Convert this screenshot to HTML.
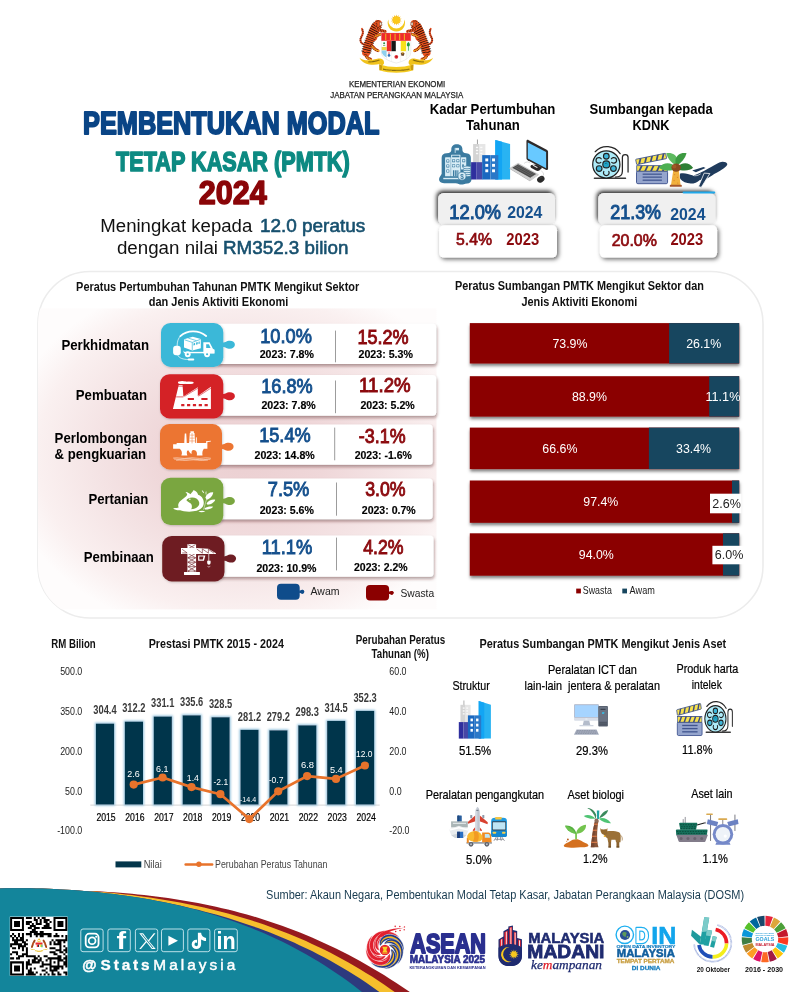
<!DOCTYPE html>
<html lang="ms">
<head>
<meta charset="utf-8">
<title>Pembentukan Modal Tetap Kasar (PMTK) 2024</title>
<style>
html,body{margin:0;padding:0;background:#fff;}
body{width:794px;height:992px;overflow:hidden;font-family:"Liberation Sans",sans-serif;}
svg{display:block;font-family:"Liberation Sans",sans-serif;}
text{white-space:pre;}
</style>
</head>
<body>
<svg width="794" height="992" viewBox="0 0 794 992">
<defs>
<filter id="sh" x="-10%" y="-20%" width="125%" height="150%"><feDropShadow dx="1.6" dy="1.8" stdDeviation="2.0" flood-color="#000" flood-opacity="0.6"/></filter>
<filter id="shb" x="-5%" y="-20%" width="110%" height="160%"><feDropShadow dx="0.4" dy="2.4" stdDeviation="1.5" flood-color="#000" flood-opacity="0.5"/></filter>
<filter id="shin" x="-10%" y="-40%" width="120%" height="180%"><feDropShadow dx="-1.3" dy="-2.2" stdDeviation="2.0" flood-color="#000" flood-opacity="0.85"/></filter>
<filter id="glow" x="-5%" y="-10%" width="110%" height="120%"><feMorphology in="SourceAlpha" operator="dilate" radius="1.1" result="d"/><feGaussianBlur in="d" stdDeviation="0.9" result="b"/><feFlood flood-color="#8fc0dc" flood-opacity="0.95"/><feComposite in2="b" operator="in" result="g"/><feMerge><feMergeNode in="g"/><feMergeNode in="SourceGraphic"/></feMerge></filter>
<radialGradient id="pink" gradientUnits="userSpaceOnUse" cx="0" cy="0" r="1" gradientTransform="translate(242 455) scale(240 184)">
<stop offset="0" stop-color="#ebcfd1"/><stop offset="0.35" stop-color="#efd7d9"/><stop offset="0.6" stop-color="#f4e3e4"/><stop offset="0.85" stop-color="#faf0f0"/><stop offset="1" stop-color="#fefcfc"/>
</radialGradient>
<filter id="shw" x="-5%" y="-25%" width="110%" height="160%"><feDropShadow dx="0.8" dy="2.2" stdDeviation="1.7" flood-color="#4a1515" flood-opacity="0.42"/></filter>
<filter id="sht" x="-10%" y="-10%" width="125%" height="125%"><feDropShadow dx="0.6" dy="0.8" stdDeviation="0.9" flood-color="#000" flood-opacity="0.22"/></filter>
<linearGradient id="pinkv" x1="0" y1="0" x2="0" y2="1">
<stop offset="0" stop-color="#f3dfe0" stop-opacity="0"/><stop offset="1" stop-color="#f3dfe0" stop-opacity="0.7"/>
</linearGradient>
<clipPath id="panelclip"><rect x="38" y="271.5" width="725" height="346.5" rx="52"/></clipPath>
</defs>
<rect width="794" height="992" fill="#ffffff"/>
<g id="header">
<text font-size="8.6" fill="#222" stroke="#222" stroke-width="0.25" x="348.93" y="87.30" textLength="96.31" lengthAdjust="spacingAndGlyphs">KEMENTERIAN EKONOMI</text>
<text font-size="8.6" fill="#222" stroke="#222" stroke-width="0.25" x="330.32" y="98.30" textLength="133.00" lengthAdjust="spacingAndGlyphs">JABATAN PERANGKAAN MALAYSIA</text>
<text font-size="32.0" fill="#0a4586" font-weight="700" stroke="#0a4586" stroke-width="2.0" x="83.12" y="134.30" textLength="296.31" lengthAdjust="spacingAndGlyphs" stroke-linejoin="round">PEMBENTUKAN MODAL</text>
<text font-size="28.0" fill="#0d8a82" font-weight="700" stroke="#0d8a82" stroke-width="1.6" x="116.10" y="171.10" textLength="233.62" lengthAdjust="spacingAndGlyphs" stroke-linejoin="round">TETAP KASAR (PMTK)</text>
<text font-size="33.3" fill="#8a0508" font-weight="700" stroke="#8a0508" stroke-width="1.5" x="198.63" y="203.60" textLength="68.18" lengthAdjust="spacingAndGlyphs" stroke-linejoin="round">2024</text>
<text font-size="18.9" fill="#111" x="100.32" y="231.80" textLength="152.00" lengthAdjust="spacingAndGlyphs">Meningkat kepada</text>
<text font-size="18.9" fill="#17506e" stroke="#17506e" stroke-width="0.6" x="259.90" y="231.80" textLength="105.35" lengthAdjust="spacingAndGlyphs">12.0 peratus</text>
<text font-size="18.9" fill="#111" x="116.90" y="253.80" textLength="101.09" lengthAdjust="spacingAndGlyphs">dengan nilai</text>
<text font-size="18.9" fill="#17506e" stroke="#17506e" stroke-width="0.6" x="223.00" y="253.80" textLength="125.40" lengthAdjust="spacingAndGlyphs">RM352.3 bilion</text>
</g>
<g id="coat" transform="translate(352 8) scale(0.11083)">
<path d="M328.5 103.9 A78 78 0 1 0 471.5 103.9 A72 72 0 1 1 328.5 103.9Z" fill="#f3c71d"/>
<polygon points="400.0,58.0 406.7,78.8 421.7,63.0 418.7,84.5 439.1,76.8 427.0,95.0 448.7,96.9 430.0,108.0 448.7,119.1 427.0,121.0 439.1,139.2 418.7,131.5 421.7,153.0 406.7,137.2 400.0,158.0 393.3,137.2 378.3,153.0 381.3,131.5 360.9,139.2 373.0,121.0 351.3,119.1 370.0,108.0 351.3,96.9 373.0,95.0 360.9,76.8 381.3,84.5 378.3,63.0 393.3,78.8" fill="#f7b918"/>
<circle cx="400" cy="108" r="32" fill="#fbc81b"/>

<g fill="none" stroke-linecap="round" stroke-linejoin="round">
 <path d="M112 330 C78 322 66 290 84 262 C100 236 104 214 90 188" stroke="#e4481c" stroke-width="17"/>
 <path d="M112 330 C78 322 66 290 84 262 C100 236 104 214 90 188" stroke="#1a0d08" stroke-width="17" stroke-dasharray="4 13" stroke-linecap="butt"/>
 <path d="M232 150 C190 210 150 300 128 400" stroke="#e8521f" stroke-width="74"/><path d="M215 175 C200 200 190 230 185 260" stroke="#e8521f" stroke-width="90"/>
 <path d="M232 150 C190 210 150 300 128 400" stroke="#1a0d08" stroke-width="90" stroke-dasharray="6 13" stroke-linecap="butt"/>
 <path d="M225 190 C250 200 275 205 300 212" stroke="#e8521f" stroke-width="26"/>
 <path d="M205 255 C230 250 250 240 268 232" stroke="#e8521f" stroke-width="24"/>
 <path d="M225 190 C250 200 275 205 300 212 M205 255 C230 250 250 240 268 232" stroke="#1a0d08" stroke-width="24" stroke-dasharray="4 11" stroke-linecap="butt"/>
 <path d="M170 330 C190 350 200 375 235 385" stroke="#e8521f" stroke-width="26"/>
 <path d="M120 400 C120 430 135 455 168 462" stroke="#e8521f" stroke-width="28"/>
 <path d="M170 330 C190 350 200 375 235 385 M120 400 C120 430 135 455 168 462" stroke="#1a0d08" stroke-width="26" stroke-dasharray="4 12" stroke-linecap="butt"/>
 <path d="M205 262 C215 250 240 244 262 236 M180 345 C200 372 215 382 245 388 M130 440 C140 458 152 462 172 465" stroke="#f6c21c" stroke-width="9"/>
</g>
<ellipse cx="236" cy="138" rx="33" ry="30" fill="#e8521f"/>
<path d="M212 120 l14 6 M224 112 l12 10 M240 110 l6 12 M214 140 l14 2 M216 156 l14 -4" stroke="#1a0d08" stroke-width="5" fill="none"/>
<path d="M250 128 l22 4 l-8 12 l10 10 l-24 4z" fill="#fff4e0" stroke="#1a0d08" stroke-width="3"/>

<g transform="translate(800 0) scale(-1 1)">
<g fill="none" stroke-linecap="round" stroke-linejoin="round">
 <path d="M112 330 C78 322 66 290 84 262 C100 236 104 214 90 188" stroke="#e4481c" stroke-width="17"/>
 <path d="M112 330 C78 322 66 290 84 262 C100 236 104 214 90 188" stroke="#1a0d08" stroke-width="17" stroke-dasharray="4 13" stroke-linecap="butt"/>
 <path d="M232 150 C190 210 150 300 128 400" stroke="#e8521f" stroke-width="74"/><path d="M215 175 C200 200 190 230 185 260" stroke="#e8521f" stroke-width="90"/>
 <path d="M232 150 C190 210 150 300 128 400" stroke="#1a0d08" stroke-width="90" stroke-dasharray="6 13" stroke-linecap="butt"/>
 <path d="M225 190 C250 200 275 205 300 212" stroke="#e8521f" stroke-width="26"/>
 <path d="M205 255 C230 250 250 240 268 232" stroke="#e8521f" stroke-width="24"/>
 <path d="M225 190 C250 200 275 205 300 212 M205 255 C230 250 250 240 268 232" stroke="#1a0d08" stroke-width="24" stroke-dasharray="4 11" stroke-linecap="butt"/>
 <path d="M170 330 C190 350 200 375 235 385" stroke="#e8521f" stroke-width="26"/>
 <path d="M120 400 C120 430 135 455 168 462" stroke="#e8521f" stroke-width="28"/>
 <path d="M170 330 C190 350 200 375 235 385 M120 400 C120 430 135 455 168 462" stroke="#1a0d08" stroke-width="26" stroke-dasharray="4 12" stroke-linecap="butt"/>
 <path d="M205 262 C215 250 240 244 262 236 M180 345 C200 372 215 382 245 388 M130 440 C140 458 152 462 172 465" stroke="#f6c21c" stroke-width="9"/>
</g>
<ellipse cx="236" cy="138" rx="33" ry="30" fill="#e8521f"/>
<path d="M212 120 l14 6 M224 112 l12 10 M240 110 l6 12 M214 140 l14 2 M216 156 l14 -4" stroke="#1a0d08" stroke-width="5" fill="none"/>
<path d="M250 128 l22 4 l-8 12 l10 10 l-24 4z" fill="#fff4e0" stroke="#1a0d08" stroke-width="3"/>
</g>
<path d="M68 448 C105 478 165 476 228 458 C262 450 296 468 288 502 L272 520 L250 505 C190 522 95 512 68 448Z" fill="#f0c21b"/>
<path d="M732 448 C695 478 635 476 572 458 C538 450 504 468 512 502 L528 520 L550 505 C610 522 705 512 732 448Z" fill="#f0c21b"/>
<path d="M246 508 C300 528 350 532 400 532 C450 532 500 528 554 508 L552 562 C500 580 450 584 400 584 C350 584 300 580 248 562Z" fill="#f3c91f"/>
<path d="M246 508 L272 520 L268 560 L248 562Z M554 508 L528 520 L532 560 L552 562Z" fill="#c99a12"/>
<path d="M282 552 C320 560 360 563 400 563 C440 563 480 560 518 552 M150 486 C185 486 215 480 250 470 M550 470 C585 480 615 486 650 486" stroke="#3a2a05" stroke-width="11" stroke-dasharray="6 4" fill="none" opacity="0.85"/>
<path d="M265 226 H530 V400 C530 450 470 480 400 497 C330 480 265 450 265 400Z" fill="#ffffff" stroke="#c9c9c9" stroke-width="3"/>
<rect x="265" y="226" width="265" height="70" fill="#ee2a2c"/>
<g fill="#f0b81c"><rect x="300" y="232" width="9" height="58"/><rect x="342" y="232" width="9" height="58"/><rect x="384" y="232" width="9" height="58"/><rect x="426" y="232" width="9" height="58"/><rect x="468" y="232" width="9" height="58"/></g>
<rect x="312" y="298" width="44" height="92" fill="#ee2a2c"/>
<rect x="356" y="298" width="40" height="92" fill="#151515"/>
<rect x="396" y="298" width="44" height="92" fill="#ffffff"/>
<rect x="440" y="298" width="50" height="92" fill="#f8e11c"/>
<path d="M268 298 h44 v52 h-44z" fill="#fdfdfd"/><path d="M268 352 h44 v30 h-44z" fill="#f2d54a"/>
<path d="M268 384 h44 l0 62 C290 436 272 420 268 400Z" fill="#8fd0ee"/>
<path d="M490 298 h38 v102 C524 420 508 436 490 446Z" fill="#f4fbf4"/>
<path d="M509 306 c14 10 18 28 8 40 h-6 v40 h-6 v-40 h-6 c-8 -14 -4 -30 10 -40z" fill="#1f9a3c"/>
<circle cx="290" cy="318" r="9" fill="#2e8f4a"/><rect x="280" y="334" width="20" height="8" fill="#7cb46a"/>
<circle cx="334" cy="428" r="12" fill="#2f6fb8"/><path d="M324 410 l10 -14 l10 14z" fill="#d83a3a"/>
<circle cx="400" cy="440" r="17" fill="#e02b34"/><circle cx="400" cy="440" r="6" fill="#a8151d"/>
<path d="M440 408 c10 -8 24 -8 34 0 l-6 22 h-22z" fill="#6b4a2a"/><path d="M444 402 h26 l-13 12z" fill="#e0a020"/>
<path d="M312 392 V462 M356 392 V482 M440 392 V482 M490 392 V462" stroke="#d0d0d0" stroke-width="2"/>
</g>
<g id="kpi">
<text font-size="14.7" fill="#000" font-weight="700" x="429.70" y="114.10" textLength="125.67" lengthAdjust="spacingAndGlyphs">Kadar Pertumbuhan</text>
<text font-size="14.7" fill="#000" font-weight="700" x="466.00" y="129.70" textLength="53.77" lengthAdjust="spacingAndGlyphs">Tahunan</text>
<text font-size="14.7" fill="#000" font-weight="700" x="589.50" y="114.10" textLength="123.26" lengthAdjust="spacingAndGlyphs">Sumbangan kepada</text>
<text font-size="14.7" fill="#000" font-weight="700" x="632.50" y="129.70" textLength="36.96" lengthAdjust="spacingAndGlyphs">KDNK</text>
<rect x="438.10" y="193.10" width="116.90" height="31.50" rx="5.5" fill="#f0f0f0" filter="url(#shin)"/>
<rect x="439.10" y="225.30" width="117.90" height="32.30" rx="5" fill="#ffffff" filter="url(#sh)"/>
<text font-size="19.58" fill="#15508d" stroke="#15508d" stroke-width="1.0" x="449.37" y="219.10" textLength="51.71" lengthAdjust="spacingAndGlyphs">12.0%</text>
<text font-size="16.62" fill="#15508d" font-weight="700" x="507.20" y="218.03" textLength="35.17" lengthAdjust="spacingAndGlyphs">2024</text>
<text font-size="16.06" fill="#8b0a0e" stroke="#8b0a0e" stroke-width="0.7" x="455.95" y="244.89" textLength="36.06" lengthAdjust="spacingAndGlyphs">5.4%</text>
<text font-size="16.34" fill="#8b0a0e" font-weight="700" x="506.30" y="245.14" textLength="32.97" lengthAdjust="spacingAndGlyphs">2023</text>
<rect x="598.20" y="193.10" width="117.30" height="31.50" rx="5.5" fill="#f0f0f0" filter="url(#shin)"/>
<rect x="599.80" y="225.30" width="117.30" height="32.30" rx="5" fill="#ffffff" filter="url(#sh)"/>
<text font-size="19.72" fill="#15508d" stroke="#15508d" stroke-width="1.0" x="610.20" y="219.20" textLength="50.87" lengthAdjust="spacingAndGlyphs">21.3%</text>
<text font-size="17.04" fill="#15508d" font-weight="700" x="670.20" y="219.63" textLength="35.31" lengthAdjust="spacingAndGlyphs">2024</text>
<text font-size="15.92" fill="#8b0a0e" stroke="#8b0a0e" stroke-width="0.7" x="611.65" y="245.59" textLength="45.24" lengthAdjust="spacingAndGlyphs">20.0%</text>
<text font-size="16.2" fill="#8b0a0e" font-weight="700" x="670.40" y="245.14" textLength="32.80" lengthAdjust="spacingAndGlyphs">2023</text>
</g>
<g id="kpi-icons">
<g transform="translate(435 135) scale(0.10076)">
<path d="M218 92 C255 92 275 115 272 150 C272 170 285 180 310 182 C345 185 358 205 356 240 L356 290 C356 300 362 306 362 320 L362 440 C362 468 345 480 320 482 C290 486 280 492 262 492 C240 492 230 480 205 478 L90 478 C55 478 40 462 40 440 C40 415 62 405 66 385 L66 225 C66 195 85 182 115 180 C150 178 162 168 162 148 C160 112 182 92 218 92Z" fill="#3b7ba0"/>
<g fill="#d9edf6">
<rect x="196" y="128" width="8" height="50"/><rect x="204" y="128" width="34" height="24"/>
<rect x="160" y="195" width="92" height="215" rx="4"/>
<rect x="100" y="222" width="56" height="188" rx="4"/>
<rect x="258" y="222" width="52" height="120" rx="4"/>
<rect x="82" y="425" width="170" height="14"/>
</g>
<g fill="#3b7ba0">
<rect x="170" y="205" width="72" height="16"/>
<rect x="112" y="242" width="30" height="30" rx="5"/><rect x="112" y="292" width="30" height="30" rx="5"/><rect x="112" y="342" width="30" height="30" rx="5"/>
<rect x="170" y="240" width="30" height="30" rx="5"/><rect x="212" y="240" width="30" height="30" rx="5"/><rect x="170" y="290" width="30" height="30" rx="5"/><rect x="212" y="290" width="30" height="30" rx="5"/>
<rect x="270" y="240" width="30" height="30" rx="5"/><rect x="270" y="290" width="16" height="30" rx="5"/>
<rect x="178" y="350" width="14" height="60"/><rect x="200" y="350" width="14" height="60"/><rect x="222" y="350" width="10" height="60"/>
</g>
<g fill="#d9edf6"><rect x="118" y="248" width="18" height="18" rx="3"/><rect x="118" y="298" width="18" height="18" rx="3"/><rect x="118" y="348" width="18" height="18" rx="3"/><rect x="176" y="246" width="18" height="18" rx="3"/><rect x="218" y="246" width="18" height="18" rx="3"/><rect x="176" y="296" width="18" height="18" rx="3"/><rect x="218" y="296" width="18" height="18" rx="3"/><rect x="276" y="246" width="18" height="18" rx="3"/></g>
<g stroke="#3b7ba0" stroke-width="7" fill="#d9edf6"><ellipse cx="318" cy="400" rx="38" ry="14"/><ellipse cx="318" cy="380" rx="38" ry="14"/><ellipse cx="318" cy="360" rx="38" ry="14"/><ellipse cx="318" cy="340" rx="38" ry="14"/><ellipse cx="318" cy="322" rx="38" ry="14"/>
<circle cx="268" cy="408" r="40"/></g>
<text x="268" y="432" font-size="64" font-weight="700" text-anchor="middle" fill="#3b7ba0">$</text>
</g>
<g transform="translate(471.1 139.5) scale(0.10076 0.10076)">
<rect x="58" y="0" width="8" height="48" fill="#8a8a8a"/>
<rect x="20" y="45" width="62" height="185" fill="#d4d4d4"/><rect x="82" y="45" width="60" height="185" fill="#e6e6e6"/>
<g fill="#fafafa"><rect x="48" y="72" width="22" height="14"/><rect x="90" y="72" width="22" height="14"/><rect x="48" y="102" width="22" height="14"/><rect x="90" y="102" width="22" height="14"/><rect x="48" y="132" width="22" height="14"/><rect x="90" y="132" width="22" height="14"/></g>
<rect x="0" y="225" width="55" height="172" fill="#2f2f9e"/><rect x="55" y="225" width="57" height="172" fill="#4747a6"/>
<path d="M240 5 L387 45 V397 H240Z" fill="#29b3f2"/><path d="M240 5 L307 23 V397 H240Z" fill="#12a5f4"/>
<rect x="110" y="155" width="82" height="242" fill="#1a68c0"/><rect x="192" y="155" width="78" height="242" fill="#2a78c8"/>
<g fill="#ffffff"><rect x="141" y="188" width="29" height="29"/><rect x="208" y="188" width="29" height="29"/><rect x="141" y="242" width="29" height="29"/><rect x="208" y="242" width="29" height="29"/><rect x="141" y="296" width="29" height="29"/><rect x="208" y="296" width="29" height="29"/></g>
</g>
<g transform="translate(500 135) scale(0.07557)">
<path d="M480 390 L560 432 L520 470 C505 478 490 476 470 466 L410 432 C398 420 402 406 416 398Z" fill="#2b2727"/>
<path d="M440 395 l60 32 l-10 10 l-60 -32z" fill="#e8e8e8"/>
<path d="M320 375 C345 350 380 352 400 372 M545 470 C560 490 585 505 575 535" stroke="#c9c9c9" stroke-width="9" fill="none"/>
<path d="M350 82 C350 66 364 60 380 68 L618 196 C630 203 636 212 636 226 L636 444 C636 462 622 468 606 460 L366 334 C354 327 350 318 350 304Z" fill="#2e2a2a"/>
<path d="M368 100 L610 224 L610 440 L368 312Z" fill="#68c9ff"/>
<path d="M125 436 L240 368 L512 518 L396 602Z" fill="#cfcfcf"/>
<path d="M125 436 L396 602 L396 612 L125 446Z" fill="#a9a9a9"/><path d="M396 602 L512 518 L512 528 L396 612Z" fill="#bcbcbc"/>
<path d="M162 432 L240 386 L478 516 L400 566Z" fill="#4a4a4a"/>
<path d="M185 420 L425 552 M208 406 L448 538 M230 393 L468 524" stroke="#8a8a8a" stroke-width="5"/>
<ellipse cx="540" cy="586" rx="52" ry="40" transform="rotate(-30 540 586)" fill="#2a2a2a"/>
<path d="M520 575 l40 -22" stroke="#666" stroke-width="5"/>
</g>
</g>
<g id="kpi-icons2">
<g transform="translate(606.3 164.4) scale(0.11335 0.11335)" stroke-linecap="round">
<path d="M-98 -112 A142 142 0 0 1 122 -95" fill="none" stroke="#262626" stroke-width="11"/>
<path d="M80 112 C120 112 142 95 142 60 L142 -62 A25 25 0 0 1 192 -62 L192 68" fill="none" stroke="#262626" stroke-width="11"/>
<path d="M-105 122 H170" stroke="#3a3a3a" stroke-width="12"/>
<circle cx="0" cy="0" r="120" fill="#aeebf8" stroke="#202020" stroke-width="11"/>
<g fill="#3eb6da" stroke="#202020" stroke-width="10"><circle cx="0" cy="-72" r="25"/><circle cx="-63" cy="37" r="25"/><circle cx="63" cy="37" r="25"/><circle cx="0" cy="0" r="31" fill="#22a4c6"/></g>
<g fill="none" stroke="#202020" stroke-width="11"><path d="M-45 -50 A25 25 0 1 0 -48 -18"/><path d="M45 -50 A25 25 0 1 1 48 -18"/><path d="M-22 62 A25 25 0 1 0 22 62"/></g>
<path d="M-10 -8 a12 12 0 0 1 18 2" fill="none" stroke="#0b5f78" stroke-width="6"/>
</g>
<g transform="translate(635.6 152.3) scale(0.11335 0.11335)">
<rect x="8" y="165" width="274" height="112" rx="12" fill="#95a5cd" stroke="#3a4f8c" stroke-width="8"/>
<g stroke="#40558f" stroke-width="11"><path d="M62 193 H232"/><path d="M62 219 H232"/><path d="M62 246 H232"/></g>
<g transform="translate(10 118)"><rect x="0" y="0" width="270" height="48" fill="#f8e24c" stroke="#3a4f8c" stroke-width="7"/><path d="M36 0 l17 0 l-22 48 l-17 0z" fill="#3a4a82"/><path d="M88 0 l17 0 l-22 48 l-17 0z" fill="#3a4a82"/><path d="M140 0 l17 0 l-22 48 l-17 0z" fill="#3a4a82"/><path d="M192 0 l17 0 l-22 48 l-17 0z" fill="#3a4a82"/><path d="M244 0 l17 0 l-22 48 l-17 0z" fill="#3a4a82"/></g>
<g transform="translate(0 62) rotate(-11.5)"><rect x="0" y="0" width="270" height="48" rx="6" fill="#f8e24c" stroke="#3a4f8c" stroke-width="7"/><path d="M36 0 l17 0 l-22 48 l-17 0z" fill="#3a4a82"/><path d="M88 0 l17 0 l-22 48 l-17 0z" fill="#3a4a82"/><path d="M140 0 l17 0 l-22 48 l-17 0z" fill="#3a4a82"/><path d="M192 0 l17 0 l-22 48 l-17 0z" fill="#3a4a82"/><path d="M244 0 l17 0 l-22 48 l-17 0z" fill="#3a4a82"/></g>
</g>
<g transform="translate(650 140) scale(0.11335)">
<path d="M266 296 C300 286 335 298 382 314 C470 285 560 222 612 198 C642 186 676 194 682 212 C682 232 640 264 566 300 C548 312 520 330 495 345 L440 352 C420 372 390 384 360 384 C320 384 286 368 268 345 C262 330 262 310 266 296Z" fill="#1f3b5c"/>
<path d="M478 292 L528 296 L452 418 L428 410Z" fill="#1f3b5c" stroke="#ffffff" stroke-width="7" stroke-linejoin="round"/>
<path d="M372 270 L472 238 L490 246 L405 284Z" fill="#1f3b5c"/>
<path d="M378 312 C400 320 425 314 448 298" stroke="#fff" stroke-width="6" fill="none"/>
</g>
<g transform="translate(659.6 154.2) scale(0.11335)">
<path d="M120 145 L170 145 L185 275 L100 275Z" fill="#f1b13d"/>
<g fill="#e2892a"><circle cx="132" cy="180" r="6"/><circle cx="158" cy="205" r="6"/><circle cx="128" cy="232" r="6"/><circle cx="160" cy="255" r="6"/></g>
<rect x="90" y="270" width="106" height="18" rx="6" fill="#a5572c"/>
<path d="M148 100 C100 75 70 40 58 -8 C105 -18 150 5 160 50 C162 70 158 88 148 100Z" fill="#5dba5f"/>
<path d="M150 100 C195 75 225 40 238 -8 C190 -18 150 5 140 50 C138 70 142 88 150 100Z" fill="#3c9a41"/>
<path d="M145 118 C105 70 40 65 -8 118 C20 150 95 150 145 132Z" fill="#4db051"/>
<path d="M152 118 C195 70 255 65 295 120 C268 150 200 150 152 132Z" fill="#2f7f35"/>
<ellipse cx="146" cy="118" rx="42" ry="36" fill="#8a4b1f"/><circle cx="130" cy="108" r="18" fill="#a25a26"/>
</g>
<rect x="682.6" y="191.5" width="32.6" height="2.1" rx="1" fill="#1fa8ea"/>
</g>
<g id="panel">
<rect x="38" y="271.5" width="725" height="346.5" rx="52" fill="#fff" stroke="#ececec" stroke-width="1.6"/>
<g clip-path="url(#panelclip)"><rect x="38" y="308.4" width="398.5" height="301" fill="url(#pink)"/></g>
<text font-size="13.3" fill="#111" font-weight="700" x="76.10" y="291.00" textLength="283.14" lengthAdjust="spacingAndGlyphs">Peratus Pertumbuhan Tahunan PMTK Mengikut Sektor</text>
<text font-size="13.3" fill="#111" font-weight="700" x="148.70" y="306.30" textLength="139.57" lengthAdjust="spacingAndGlyphs">dan Jenis Aktiviti Ekonomi</text>
<text font-size="13.3" fill="#111" font-weight="700" x="454.90" y="290.10" textLength="249.00" lengthAdjust="spacingAndGlyphs">Peratus Sumbangan PMTK Mengikut Sektor dan</text>
<text font-size="13.3" fill="#111" font-weight="700" x="521.40" y="305.80" textLength="115.77" lengthAdjust="spacingAndGlyphs">Jenis Aktiviti Ekonomi</text>
<rect x="215.30" y="323.80" width="220.90" height="40.30" rx="3.5" fill="#fff" filter="url(#shw)"/>
<g filter="url(#sht)"><rect x="161" y="323" width="62.3" height="43.9" rx="9.5" fill="#3bb8d8"/></g>
<path d="M222.8 342.5 C225.8 342.5 226.3 340.7 229.9 340.7 a5 4 0 1 1 0 8 C226.3 348.7 225.8 346.9 222.8 346.9Z" fill="#3bb8d8"/>
<line x1="335.5" y1="330.6" x2="335.5" y2="362.3" stroke="#9c9c9c" stroke-width="1"/>
<text font-size="20" fill="#15508d" stroke="#15508d" stroke-width="0.9" x="260.24" y="343.40" textLength="51.61" lengthAdjust="spacingAndGlyphs">10.0%</text>
<text font-size="10.4" fill="#000" font-weight="700" stroke="#000" stroke-width="0.15" x="259.68" y="358.00" textLength="54.29" lengthAdjust="spacingAndGlyphs">2023: 7.8%</text>
<text font-size="20" fill="#8b0a0e" stroke="#8b0a0e" stroke-width="0.9" x="357.45" y="343.90" textLength="51.21" lengthAdjust="spacingAndGlyphs">15.2%</text>
<text font-size="10.4" fill="#000" font-weight="700" stroke="#000" stroke-width="0.15" x="358.47" y="358.00" textLength="54.50" lengthAdjust="spacingAndGlyphs">2023: 5.3%</text>
<rect x="215.30" y="374.90" width="220.90" height="40.90" rx="3.5" fill="#fff" filter="url(#shw)"/>
<g filter="url(#sht)"><rect x="160" y="374.2" width="63.3" height="44.2" rx="9.5" fill="#d42028"/></g>
<path d="M222.8 394.0 C225.8 394.0 226.3 392.2 229.9 392.2 a5 4 0 1 1 0 8 C226.3 400.2 225.8 398.4 222.8 398.4Z" fill="#d42028"/>
<line x1="335.5" y1="380.5" x2="335.5" y2="413.2" stroke="#9c9c9c" stroke-width="1"/>
<text font-size="20" fill="#15508d" stroke="#15508d" stroke-width="0.9" x="261.24" y="392.80" textLength="51.41" lengthAdjust="spacingAndGlyphs">16.8%</text>
<text font-size="10.4" fill="#000" font-weight="700" stroke="#000" stroke-width="0.15" x="261.47" y="408.90" textLength="54.29" lengthAdjust="spacingAndGlyphs">2023: 7.8%</text>
<text font-size="20" fill="#8b0a0e" stroke="#8b0a0e" stroke-width="0.9" x="359.12" y="391.80" textLength="51.53" lengthAdjust="spacingAndGlyphs">11.2%</text>
<text font-size="10.4" fill="#000" font-weight="700" stroke="#000" stroke-width="0.15" x="360.47" y="408.90" textLength="54.29" lengthAdjust="spacingAndGlyphs">2023: 5.2%</text>
<rect x="214.00" y="424.50" width="218.70" height="40.30" rx="3.5" fill="#fff" filter="url(#shw)"/>
<g filter="url(#sht)"><rect x="160" y="424" width="62.0" height="45.4" rx="9.5" fill="#ec7532"/></g>
<path d="M221.5 444.5 C224.5 444.5 225 442.7 228.6 442.7 a5 4 0 1 1 0 8 C225 450.7 224.5 448.9 221.5 448.9Z" fill="#ec7532"/>
<line x1="334.7" y1="427.6" x2="334.7" y2="460.3" stroke="#9c9c9c" stroke-width="1"/>
<text font-size="20" fill="#15508d" stroke="#15508d" stroke-width="0.9" x="259.14" y="442.20" textLength="51.51" lengthAdjust="spacingAndGlyphs">15.4%</text>
<text font-size="10.4" fill="#000" font-weight="700" stroke="#000" stroke-width="0.15" x="254.47" y="458.80" textLength="60.29" lengthAdjust="spacingAndGlyphs">2023: 14.8%</text>
<text font-size="20" fill="#8b0a0e" stroke="#8b0a0e" stroke-width="0.9" x="358.85" y="443.20" textLength="46.71" lengthAdjust="spacingAndGlyphs">-3.1%</text>
<text font-size="10.4" fill="#000" font-weight="700" stroke="#000" stroke-width="0.15" x="354.68" y="458.80" textLength="57.29" lengthAdjust="spacingAndGlyphs">2023: -1.6%</text>
<rect x="215.30" y="478.40" width="217.40" height="40.90" rx="3.5" fill="#fff" filter="url(#shw)"/>
<g filter="url(#sht)"><rect x="161" y="477.8" width="62.3" height="47.2" rx="9.5" fill="#7aa640"/></g>
<path d="M222.8 498.8 C225.8 498.8 226.3 497 229.9 497 a5 4 0 1 1 0 8 C226.3 505 225.8 503.2 222.8 503.2Z" fill="#7aa640"/>
<line x1="336.5" y1="482.5" x2="336.5" y2="515.7" stroke="#9c9c9c" stroke-width="1"/>
<text font-size="20" fill="#15508d" stroke="#15508d" stroke-width="0.9" x="267.74" y="495.80" textLength="41.61" lengthAdjust="spacingAndGlyphs">7.5%</text>
<text font-size="10.4" fill="#000" font-weight="700" stroke="#000" stroke-width="0.15" x="259.68" y="513.70" textLength="54.29" lengthAdjust="spacingAndGlyphs">2023: 5.6%</text>
<text font-size="20" fill="#8b0a0e" stroke="#8b0a0e" stroke-width="0.9" x="365.15" y="495.80" textLength="40.41" lengthAdjust="spacingAndGlyphs">3.0%</text>
<text font-size="10.4" fill="#000" font-weight="700" stroke="#000" stroke-width="0.15" x="361.77" y="513.70" textLength="53.99" lengthAdjust="spacingAndGlyphs">2023: 0.7%</text>
<rect x="216.50" y="535.60" width="217.00" height="41.10" rx="3.5" fill="#fff" filter="url(#shw)"/>
<g filter="url(#sht)"><rect x="162.2" y="536" width="62.3" height="45.4" rx="9.5" fill="#6e1e24"/></g>
<path d="M224.0 556.4 C227.0 556.4 227.5 554.6 231.1 554.6 a5 4 0 1 1 0 8 C227.5 562.6 227.0 560.8000000000001 224.0 560.8000000000001Z" fill="#6e1e24"/>
<line x1="336.5" y1="537.6" x2="336.5" y2="570.4" stroke="#9c9c9c" stroke-width="1"/>
<text font-size="20" fill="#15508d" stroke="#15508d" stroke-width="0.9" x="261.73" y="554.00" textLength="50.62" lengthAdjust="spacingAndGlyphs">11.1%</text>
<text font-size="10.4" fill="#000" font-weight="700" stroke="#000" stroke-width="0.15" x="256.47" y="571.60" textLength="59.99" lengthAdjust="spacingAndGlyphs">2023: 10.9%</text>
<text font-size="20" fill="#8b0a0e" stroke="#8b0a0e" stroke-width="0.9" x="363.15" y="553.50" textLength="40.41" lengthAdjust="spacingAndGlyphs">4.2%</text>
<text font-size="10.4" fill="#000" font-weight="700" stroke="#000" stroke-width="0.15" x="353.97" y="570.60" textLength="53.69" lengthAdjust="spacingAndGlyphs">2023: 2.2%</text>
</g>
<g id="sector-icons">
<g transform="translate(158 320) scale(0.10076)" fill="#ffffff">
<path d="M222 160 C290 100 400 95 478 158" fill="none" stroke="#ffffff" stroke-width="19" stroke-linecap="round"/>
<path d="M226 156 C200 180 190 215 190 258" fill="none" stroke="#ffffff" stroke-width="7"/>
<rect x="150" y="255" width="76" height="96" rx="30"/>
<path d="M196 348 C210 380 250 392 305 392" fill="none" stroke="#ffffff" stroke-width="7"/>
<rect x="296" y="382" width="64" height="20" rx="10"/>
<path d="M258 192 L345 165 L425 188 L425 280 L340 302 L258 272Z"/>
<path d="M262 196 L340 222 L422 192 M340 222 V298 M300 180 L382 205" fill="none" stroke="#3bb8d8" stroke-width="7"/>
<path d="M352 232 l16 -5 v22 l-16 5z M378 224 l16 -5 v22 l-16 5z M402 217 l12 -4 v22 l-12 4z" fill="#3bb8d8"/>
<path d="M450 222 H512 L545 285 L562 295 V332 H450Z"/>
<path d="M478 240 H505 L522 278 H478Z" fill="#3bb8d8"/>
<rect x="256" y="316" width="300" height="14"/>
<circle cx="295" cy="340" r="29"/><circle cx="295" cy="340" r="11" fill="#3bb8d8"/>
<circle cx="487" cy="340" r="29"/><circle cx="487" cy="340" r="11" fill="#3bb8d8"/>
<path d="M262 318 l-10 -8" stroke="#ffffff" stroke-width="8"/>
</g>
<g transform="translate(158 370) scale(0.10076)" fill="#ffffff">
<path d="M206 150 H244 L252 262 L395 170 V258 L525 166 V386 H148Z"/>
<ellipse cx="240" cy="124" rx="42" ry="15"/><ellipse cx="305" cy="126" rx="50" ry="13"/>
<path d="M200 160 H248 M180 267 H252" stroke="#d42028" stroke-width="7"/>
<path d="M256 248 L392 160 M400 246 L522 158" stroke="#d42028" stroke-width="0"/>
<path d="M262 262 L395 182 M402 260 L525 180" stroke="#d42028" stroke-width="6" fill="none"/>
<g fill="#d42028"><rect x="295" y="278" width="62" height="19" rx="3"/><rect x="430" y="278" width="62" height="19" rx="3"/>
<rect x="230" y="338" width="32" height="22" rx="3"/><rect x="288" y="338" width="32" height="22" rx="3"/><rect x="346" y="338" width="32" height="22" rx="3"/><rect x="404" y="338" width="32" height="22" rx="3"/><rect x="462" y="338" width="32" height="22" rx="3"/></g>
</g>
<g transform="translate(158 420) scale(0.10076)" fill="#ffffff">
<path d="M150 240 H185 V228 H478 V212 H490 V285 H455 C440 300 438 330 442 352 H385 C392 325 380 300 355 298 C335 298 330 315 335 335 C320 335 312 318 300 300 C285 300 282 330 292 352 H232 C245 325 235 300 215 285 H150Z"/>
<path d="M316 128 H362 L370 232 H308Z"/><path d="M322 112 H356 V130 H322Z"/>
<path d="M320 150 H360 M316 180 H364 M312 208 H366 M338 128 V232" stroke="#ec7532" stroke-width="5"/>
<path d="M266 135 L280 135 L286 232 H260Z"/><rect x="376" y="172" width="9" height="60"/>
<path d="M480 212 L525 205 V213 L482 222Z"/>
<g fill="none" stroke="#ffffff" stroke-width="5"><path d="M150 378 C200 368 250 390 300 378 C350 366 400 390 450 378 C480 372 505 378 525 380"/><path d="M180 400 C220 392 260 408 310 398 C360 388 420 408 495 398"/><path d="M160 388 C230 398 300 376 370 390 C430 400 480 388 520 390"/></g>
</g>
<g transform="translate(158 475) scale(0.10076)" fill="#ffffff">
<path d="M272 168 C300 172 310 180 322 190 C340 170 352 160 350 150 C375 158 392 175 398 195 C440 210 462 250 452 295 C440 340 390 362 310 364 C270 364 240 358 220 350 C190 352 165 345 150 332 C175 325 195 326 205 322 C195 300 200 275 225 255 C255 230 280 215 290 195 C288 185 282 176 272 168Z"/>
<path d="M300 232 C340 215 395 225 408 268 C418 305 385 335 330 340 C340 320 340 295 322 280 C305 268 290 262 282 250 C284 242 290 236 300 232Z" fill="#7aa640"/>
<circle cx="316" cy="240" r="7"/>
<path d="M420 262 C425 290 410 322 380 338 C420 328 445 300 442 262Z" fill="#ffffff"/>
<path d="M470 225 C480 190 510 170 548 172 C545 205 520 235 485 245Z"/>
<path d="M482 280 C500 255 535 240 568 245 C560 270 530 292 492 295Z"/>
<path d="M462 330 C490 312 520 308 548 315 C530 335 500 345 465 342Z"/>
<path d="M478 160 C480 172 482 185 478 200 C470 188 470 172 478 160Z"/><path d="M435 150 C448 158 456 168 458 182 C445 178 438 166 435 150Z"/>
<path d="M400 362 C420 352 450 352 470 360 C450 372 420 374 400 362Z"/>
<path d="M452 345 C465 300 475 250 500 200" fill="none" stroke="#ffffff" stroke-width="5"/>
</g>
<g transform="translate(158 532) scale(0.10076)" fill="#ffffff">
<rect x="292" y="120" width="86" height="280"/>
<path d="M296 124 L374 168 M374 124 L296 168 M296 168 H374" stroke="#6e1e24" stroke-width="6" fill="none"/><path d="M296 168 L374 212 M374 168 L296 212 M296 212 H374" stroke="#6e1e24" stroke-width="6" fill="none"/><path d="M296 212 L374 256 M374 212 L296 256 M296 256 H374" stroke="#6e1e24" stroke-width="6" fill="none"/><path d="M296 256 L374 300 M374 256 L296 300 M296 300 H374" stroke="#6e1e24" stroke-width="6" fill="none"/><path d="M296 300 L374 344 M374 300 L296 344 M296 344 H374" stroke="#6e1e24" stroke-width="6" fill="none"/><path d="M296 344 L374 388 M374 344 L296 388 M296 388 H374" stroke="#6e1e24" stroke-width="6" fill="none"/><path d="M296 388 L374 432 M374 388 L296 432 M296 432 H374" stroke="#6e1e24" stroke-width="6" fill="none"/>
<rect x="258" y="396" width="158" height="30" rx="3"/>
<path d="M228 160 H380 L500 165 L575 210 V218 H228Z"/>
<path d="M240 172 L290 208 M240 208 H288 M384 168 L440 210 M440 168 L500 210 M500 172 L556 210 M440 168 V210 M500 170 V210" stroke="#6e1e24" stroke-width="6" fill="none"/>
<path d="M398 232 H470 L456 286 H398Z"/><path d="M410 244 H452 L445 272 H410Z" fill="#6e1e24"/>
<rect x="501" y="216" width="7" height="72"/>
<path d="M488 285 H522 V305 C522 318 514 324 505 324 C496 324 488 318 488 305Z"/>
<path d="M492 338 C495 352 515 352 518 336" fill="none" stroke="#ffffff" stroke-width="5"/>
</g>
</g>
<g id="bars">
<g filter="url(#shb)"><rect x="469.8" y="323.1" width="269.4" height="40.4" fill="#8b0000"/></g>
<rect x="669.10" y="323.10" width="70.10" height="40.40" fill="#17465f"/>
<text font-size="12.2" fill="#fff" x="552.45" y="347.70" textLength="35.03" lengthAdjust="spacingAndGlyphs">73.9%</text>
<text font-size="12.2" fill="#fff" x="686.15" y="347.70" textLength="35.03" lengthAdjust="spacingAndGlyphs">26.1%</text>
<g filter="url(#shb)"><rect x="469.8" y="376.2" width="269.4" height="40.4" fill="#8b0000"/></g>
<rect x="709.20" y="376.20" width="30.00" height="40.40" fill="#17465f"/>
<text font-size="12.2" fill="#fff" x="571.90" y="400.80" textLength="35.03" lengthAdjust="spacingAndGlyphs">88.9%</text>
<text font-size="12.2" fill="#fff" x="705.40" y="400.80" textLength="35.03" lengthAdjust="spacingAndGlyphs">11.1%</text>
<g filter="url(#shb)"><rect x="469.8" y="427.6" width="269.4" height="41.5" fill="#8b0000"/></g>
<rect x="648.90" y="427.60" width="90.30" height="41.50" fill="#17465f"/>
<text font-size="12.2" fill="#fff" x="542.35" y="452.75" textLength="35.03" lengthAdjust="spacingAndGlyphs">66.6%</text>
<text font-size="12.2" fill="#fff" x="676.05" y="452.75" textLength="35.03" lengthAdjust="spacingAndGlyphs">33.4%</text>
<g filter="url(#shb)"><rect x="469.8" y="480.5" width="269.4" height="42.3" fill="#8b0000"/></g>
<rect x="732.00" y="480.50" width="7.20" height="42.30" fill="#17465f"/>
<text font-size="12.2" fill="#fff" x="583.30" y="506.05" textLength="35.03" lengthAdjust="spacingAndGlyphs">97.4%</text>
<rect x="710.00" y="493.70" width="31.50" height="19.60" fill="#fff"/>
<text font-size="12.2" fill="#222" x="712.35" y="507.90" textLength="28.63" lengthAdjust="spacingAndGlyphs">2.6%</text>
<g filter="url(#shb)"><rect x="469.8" y="533.3" width="269.4" height="42.4" fill="#8b0000"/></g>
<rect x="723.00" y="533.30" width="16.20" height="42.40" fill="#17465f"/>
<text font-size="12.2" fill="#fff" x="578.80" y="558.90" textLength="35.03" lengthAdjust="spacingAndGlyphs">94.0%</text>
<rect x="712.40" y="545.80" width="31.60" height="18.50" fill="#fff"/>
<text font-size="12.2" fill="#222" x="714.80" y="559.45" textLength="28.63" lengthAdjust="spacingAndGlyphs">6.0%</text>
<rect x="576.20" y="588.60" width="4.70" height="4.80" fill="#8b0000"/>
<text font-size="10.6" fill="#1a1a1a" x="582.80" y="593.80" textLength="29.01" lengthAdjust="spacingAndGlyphs">Swasta</text>
<rect x="622.30" y="588.60" width="4.70" height="4.80" fill="#17465f"/>
<text font-size="10.6" fill="#1a1a1a" x="629.60" y="593.80" textLength="25.25" lengthAdjust="spacingAndGlyphs">Awam</text>
</g>
<g id="legend-left">
<rect x="277" y="583.7" width="22.7" height="16.1" rx="4" fill="#0f4c8b"/>
<path d="M299.2 590.55 h2 a1.8 1.8 0 1 1 0 2.4 h-2Z" fill="#0f4c8b"/><circle cx="302.09999999999997" cy="591.75" r="1.9" fill="#0f4c8b"/>
<rect x="366" y="585" width="23.1" height="15.6" rx="4" fill="#8b0000"/>
<path d="M388.6 591.5999999999999 h2 a1.8 1.8 0 1 1 0 2.4 h-2Z" fill="#8b0000"/><circle cx="391.5" cy="592.8" r="1.9" fill="#8b0000"/>
<text font-size="10.2" fill="#222" x="310.50" y="594.80" textLength="29.00" lengthAdjust="spacingAndGlyphs">Awam</text>
<text font-size="10.2" fill="#222" x="400.50" y="596.60" textLength="33.66" lengthAdjust="spacingAndGlyphs">Swasta</text>
<text font-size="14.4" fill="#000" font-weight="700" x="61.40" y="349.70" textLength="87.63" lengthAdjust="spacingAndGlyphs">Perkhidmatan</text>
<text font-size="14.4" fill="#000" font-weight="700" x="75.80" y="399.60" textLength="71.23" lengthAdjust="spacingAndGlyphs">Pembuatan</text>
<text font-size="14.4" fill="#000" font-weight="700" x="54.60" y="442.70" textLength="92.43" lengthAdjust="spacingAndGlyphs">Perlombongan</text>
<text font-size="14.4" fill="#000" font-weight="700" x="54.60" y="459.00" textLength="91.42" lengthAdjust="spacingAndGlyphs">&amp; pengkuarian</text>
<text font-size="14.4" fill="#000" font-weight="700" x="88.40" y="503.90" textLength="60.02" lengthAdjust="spacingAndGlyphs">Pertanian</text>
<text font-size="14.4" fill="#000" font-weight="700" x="83.70" y="561.80" textLength="70.22" lengthAdjust="spacingAndGlyphs">Pembinaan</text>
</g>
<g id="chart">
<text font-size="12.2" fill="#111" font-weight="700" x="51.30" y="648.30" textLength="44.45" lengthAdjust="spacingAndGlyphs">RM Bilion</text>
<text font-size="12.8" fill="#111" font-weight="700" x="148.70" y="648.30" textLength="135.16" lengthAdjust="spacingAndGlyphs">Prestasi PMTK 2015 - 2024</text>
<text font-size="12.8" fill="#111" font-weight="700" x="355.70" y="643.80" textLength="89.49" lengthAdjust="spacingAndGlyphs">Perubahan Peratus</text>
<text font-size="12.8" fill="#111" font-weight="700" x="371.60" y="657.90" textLength="57.30" lengthAdjust="spacingAndGlyphs">Tahunan (%)</text>
<text font-size="10.2" fill="#222" x="60.13" y="674.80" textLength="22.18" lengthAdjust="spacingAndGlyphs">500.0</text>
<text font-size="10.2" fill="#222" x="389.30" y="674.80" textLength="17.25" lengthAdjust="spacingAndGlyphs">60.0</text>
<text font-size="10.2" fill="#222" x="60.13" y="714.70" textLength="22.18" lengthAdjust="spacingAndGlyphs">350.0</text>
<text font-size="10.2" fill="#222" x="389.30" y="714.70" textLength="17.25" lengthAdjust="spacingAndGlyphs">40.0</text>
<text font-size="10.2" fill="#222" x="60.13" y="754.60" textLength="22.18" lengthAdjust="spacingAndGlyphs">200.0</text>
<text font-size="10.2" fill="#222" x="389.30" y="754.60" textLength="17.25" lengthAdjust="spacingAndGlyphs">20.0</text>
<text font-size="10.2" fill="#222" x="65.06" y="794.50" textLength="17.25" lengthAdjust="spacingAndGlyphs">50.0</text>
<text font-size="10.2" fill="#222" x="389.30" y="794.50" textLength="12.32" lengthAdjust="spacingAndGlyphs">0.0</text>
<text font-size="10.2" fill="#222" x="57.18" y="834.40" textLength="25.13" lengthAdjust="spacingAndGlyphs">-100.0</text>
<text font-size="10.2" fill="#222" x="389.30" y="834.40" textLength="20.20" lengthAdjust="spacingAndGlyphs">-20.0</text>
<line x1="90.3" y1="805.1" x2="379.7" y2="805.1" stroke="#d4d4d4" stroke-width="1"/>
<g filter="url(#glow)">
<rect x="95.9" y="723.6" width="18.2" height="81.0" fill="#04364b"/>
<rect x="124.8" y="721.6" width="18.2" height="83.0" fill="#04364b"/>
<rect x="153.7" y="716.5" width="18.2" height="88.1" fill="#04364b"/>
<rect x="182.6" y="715.3" width="18.2" height="89.3" fill="#04364b"/>
<rect x="211.5" y="717.2" width="18.2" height="87.4" fill="#04364b"/>
<rect x="240.4" y="729.8" width="18.2" height="74.8" fill="#04364b"/>
<rect x="269.3" y="730.3" width="18.2" height="74.3" fill="#04364b"/>
<rect x="298.2" y="725.3" width="18.2" height="79.3" fill="#04364b"/>
<rect x="327.1" y="720.9" width="18.2" height="83.7" fill="#04364b"/>
<rect x="356.0" y="710.9" width="18.2" height="93.7" fill="#04364b"/>
</g>
<text font-size="12.0" fill="#3a3a3a" font-weight="700" x="93.30" y="714.33" textLength="23.25" lengthAdjust="spacingAndGlyphs">304.4</text>
<text font-size="10.6" fill="#000" stroke="#000" stroke-width="0.2" x="96.40" y="820.80" textLength="19.31" lengthAdjust="spacingAndGlyphs">2015</text>
<text font-size="12.0" fill="#3a3a3a" font-weight="700" x="122.20" y="712.25" textLength="23.25" lengthAdjust="spacingAndGlyphs">312.2</text>
<text font-size="10.6" fill="#000" stroke="#000" stroke-width="0.2" x="125.30" y="820.80" textLength="19.31" lengthAdjust="spacingAndGlyphs">2016</text>
<text font-size="12.0" fill="#3a3a3a" font-weight="700" x="151.10" y="707.23" textLength="23.25" lengthAdjust="spacingAndGlyphs">331.1</text>
<text font-size="10.6" fill="#000" stroke="#000" stroke-width="0.2" x="154.20" y="820.80" textLength="19.31" lengthAdjust="spacingAndGlyphs">2017</text>
<text font-size="12.0" fill="#3a3a3a" font-weight="700" x="180.00" y="706.03" textLength="23.25" lengthAdjust="spacingAndGlyphs">335.6</text>
<text font-size="10.6" fill="#000" stroke="#000" stroke-width="0.2" x="183.10" y="820.80" textLength="19.31" lengthAdjust="spacingAndGlyphs">2018</text>
<text font-size="12.0" fill="#3a3a3a" font-weight="700" x="208.90" y="707.92" textLength="23.25" lengthAdjust="spacingAndGlyphs">328.5</text>
<text font-size="10.6" fill="#000" stroke="#000" stroke-width="0.2" x="212.00" y="820.80" textLength="19.31" lengthAdjust="spacingAndGlyphs">2019</text>
<text font-size="12.0" fill="#3a3a3a" font-weight="700" x="237.80" y="720.50" textLength="23.25" lengthAdjust="spacingAndGlyphs">281.2</text>
<text font-size="10.6" fill="#000" stroke="#000" stroke-width="0.2" x="240.90" y="820.80" textLength="19.31" lengthAdjust="spacingAndGlyphs">2020</text>
<text font-size="12.0" fill="#3a3a3a" font-weight="700" x="266.70" y="721.03" textLength="23.25" lengthAdjust="spacingAndGlyphs">279.2</text>
<text font-size="10.6" fill="#000" stroke="#000" stroke-width="0.2" x="269.80" y="820.80" textLength="19.31" lengthAdjust="spacingAndGlyphs">2021</text>
<text font-size="12.0" fill="#3a3a3a" font-weight="700" x="295.60" y="715.95" textLength="23.25" lengthAdjust="spacingAndGlyphs">298.3</text>
<text font-size="10.6" fill="#000" stroke="#000" stroke-width="0.2" x="298.70" y="820.80" textLength="19.31" lengthAdjust="spacingAndGlyphs">2022</text>
<text font-size="12.0" fill="#3a3a3a" font-weight="700" x="324.50" y="711.64" textLength="23.25" lengthAdjust="spacingAndGlyphs">314.5</text>
<text font-size="10.6" fill="#000" stroke="#000" stroke-width="0.2" x="327.60" y="820.80" textLength="19.31" lengthAdjust="spacingAndGlyphs">2023</text>
<text font-size="12.0" fill="#3a3a3a" font-weight="700" x="353.40" y="701.59" textLength="23.25" lengthAdjust="spacingAndGlyphs">352.3</text>
<text font-size="10.6" fill="#000" stroke="#000" stroke-width="0.2" x="356.50" y="820.80" textLength="19.31" lengthAdjust="spacingAndGlyphs">2024</text>
<polyline points="133.7,784.6 162.6,777.5 191.5,787.1 220.4,794.2 249.3,819.1 278.2,791.3 307.1,776.1 336.0,778.9 364.9,765.5" fill="none" stroke="#e8732b" stroke-width="2.7" stroke-linejoin="round" stroke-linecap="round"/>
<circle cx="133.7" cy="784.6" r="4.1" fill="#e8732b"/>
<text font-size="9.0" fill="#fff" x="127.30" y="776.60" textLength="12.41" lengthAdjust="spacingAndGlyphs">2.6</text>
<circle cx="162.6" cy="777.5" r="4.1" fill="#e8732b"/>
<text font-size="9.0" fill="#fff" x="156.00" y="771.80" textLength="12.41" lengthAdjust="spacingAndGlyphs">6.1</text>
<circle cx="191.5" cy="787.1" r="4.1" fill="#e8732b"/>
<text font-size="9.0" fill="#fff" x="186.80" y="780.80" textLength="12.11" lengthAdjust="spacingAndGlyphs">1.4</text>
<circle cx="220.4" cy="794.2" r="4.1" fill="#e8732b"/>
<text font-size="9.0" fill="#fff" x="213.50" y="785.00" textLength="14.71" lengthAdjust="spacingAndGlyphs">-2.1</text>
<circle cx="249.3" cy="819.1" r="4.1" fill="#e8732b"/>
<text font-size="8.1" fill="#fff" x="240.00" y="802.00" textLength="16.16" lengthAdjust="spacingAndGlyphs">-14.4</text>
<circle cx="278.2" cy="791.3" r="4.1" fill="#e8732b"/>
<text font-size="9.0" fill="#fff" x="268.70" y="783.10" textLength="14.81" lengthAdjust="spacingAndGlyphs">-0.7</text>
<circle cx="307.1" cy="776.1" r="4.1" fill="#e8732b"/>
<text font-size="9.0" fill="#fff" x="300.90" y="767.80" textLength="13.11" lengthAdjust="spacingAndGlyphs">6.8</text>
<circle cx="336.0" cy="778.9" r="4.1" fill="#e8732b"/>
<text font-size="9.0" fill="#fff" x="329.90" y="773.10" textLength="12.81" lengthAdjust="spacingAndGlyphs">5.4</text>
<circle cx="364.9" cy="765.5" r="4.1" fill="#e8732b"/>
<text font-size="9.0" fill="#fff" x="356.00" y="756.80" textLength="16.51" lengthAdjust="spacingAndGlyphs">12.0</text>
<rect x="115.50" y="861.40" width="25.80" height="6.00" fill="#04364b"/>
<text font-size="10.6" fill="#444" x="143.70" y="867.80" textLength="18.01" lengthAdjust="spacingAndGlyphs">Nilai</text>
<line x1="185.6" y1="864.5" x2="212.2" y2="864.5" stroke="#e8732b" stroke-width="2.4" stroke-linecap="round"/><circle cx="198.9" cy="864.2" r="2.7" fill="#e8732b"/>
<text font-size="10.6" fill="#444" x="215.00" y="867.80" textLength="112.41" lengthAdjust="spacingAndGlyphs">Perubahan Peratus Tahunan</text>
</g>
<g id="assets">
<text font-size="13.1" fill="#111" font-weight="700" x="479.40" y="647.60" textLength="246.77" lengthAdjust="spacingAndGlyphs">Peratus Sumbangan PMTK Mengikut Jenis Aset</text>
<text font-size="12.7" fill="#000" stroke="#000" stroke-width="0.2" x="452.40" y="689.70" textLength="37.45" lengthAdjust="spacingAndGlyphs">Struktur</text>
<text font-size="12.7" fill="#000" stroke="#000" stroke-width="0.2" x="458.90" y="755.20" textLength="32.25" lengthAdjust="spacingAndGlyphs">51.5%</text>
<text font-size="12.7" fill="#000" stroke="#000" stroke-width="0.2" x="547.94" y="673.70" textLength="89.01" lengthAdjust="spacingAndGlyphs">Peralatan ICT dan</text>
<text font-size="12.7" fill="#000" stroke="#000" stroke-width="0.2" x="524.60" y="689.80" textLength="135.35" lengthAdjust="spacingAndGlyphs">lain-lain  jentera &amp; peralatan</text>
<text font-size="12.7" fill="#000" stroke="#000" stroke-width="0.2" x="576.10" y="755.20" textLength="31.85" lengthAdjust="spacingAndGlyphs">29.3%</text>
<text font-size="12.7" fill="#000" stroke="#000" stroke-width="0.2" x="676.45" y="673.10" textLength="61.85" lengthAdjust="spacingAndGlyphs">Produk harta</text>
<text font-size="12.7" fill="#000" stroke="#000" stroke-width="0.2" x="691.80" y="688.90" textLength="30.06" lengthAdjust="spacingAndGlyphs">intelek</text>
<text font-size="12.7" fill="#000" stroke="#000" stroke-width="0.2" x="682.10" y="754.00" textLength="30.34" lengthAdjust="spacingAndGlyphs">11.8%</text>
<text font-size="12.7" fill="#000" stroke="#000" stroke-width="0.2" x="425.64" y="798.80" textLength="118.51" lengthAdjust="spacingAndGlyphs">Peralatan pengangkutan</text>
<text font-size="12.7" fill="#000" stroke="#000" stroke-width="0.2" x="466.00" y="863.90" textLength="25.75" lengthAdjust="spacingAndGlyphs">5.0%</text>
<text font-size="12.7" fill="#000" stroke="#000" stroke-width="0.2" x="567.40" y="798.80" textLength="56.61" lengthAdjust="spacingAndGlyphs">Aset biologi</text>
<text font-size="12.7" fill="#000" stroke="#000" stroke-width="0.2" x="583.10" y="862.80" textLength="24.54" lengthAdjust="spacingAndGlyphs">1.2%</text>
<text font-size="12.7" fill="#000" stroke="#000" stroke-width="0.2" x="691.20" y="797.60" textLength="41.35" lengthAdjust="spacingAndGlyphs">Aset lain</text>
<text font-size="12.7" fill="#000" stroke="#000" stroke-width="0.2" x="702.50" y="862.80" textLength="25.35" lengthAdjust="spacingAndGlyphs">1.1%</text>
</g>
<g id="asset-icons">
<g transform="translate(458.8 700.5) scale(0.08294573643410853 0.09596977329974811)">
<rect x="58" y="0" width="8" height="48" fill="#8a8a8a"/>
<rect x="20" y="45" width="62" height="185" fill="#d4d4d4"/><rect x="82" y="45" width="60" height="185" fill="#e6e6e6"/>
<g fill="#fafafa"><rect x="48" y="72" width="22" height="14"/><rect x="90" y="72" width="22" height="14"/><rect x="48" y="102" width="22" height="14"/><rect x="90" y="102" width="22" height="14"/><rect x="48" y="132" width="22" height="14"/><rect x="90" y="132" width="22" height="14"/></g>
<rect x="0" y="225" width="55" height="172" fill="#2f2f9e"/><rect x="55" y="225" width="57" height="172" fill="#4747a6"/>
<path d="M240 5 L387 45 V397 H240Z" fill="#29b3f2"/><path d="M240 5 L307 23 V397 H240Z" fill="#12a5f4"/>
<rect x="110" y="155" width="82" height="242" fill="#1a68c0"/><rect x="192" y="155" width="78" height="242" fill="#2a78c8"/>
<g fill="#ffffff"><rect x="141" y="188" width="29" height="29"/><rect x="208" y="188" width="29" height="29"/><rect x="141" y="242" width="29" height="29"/><rect x="208" y="242" width="29" height="29"/><rect x="141" y="296" width="29" height="29"/><rect x="208" y="296" width="29" height="29"/></g>
</g>
<g transform="translate(565 695) scale(0.07557)">
<path d="M250 335 H320 L336 402 H234Z" fill="#b4bccb"/>
<rect x="190" y="397" width="188" height="18" rx="8" fill="#cfd5e0"/>
<rect x="120" y="122" width="328" height="220" rx="14" fill="#d9dee8"/>
<rect x="120" y="122" width="328" height="178" rx="12" fill="#b3bbcc"/>
<rect x="131" y="135" width="308" height="156" fill="#a6d4ff"/>
<rect x="268" y="312" width="30" height="12" rx="4" fill="#eef1f6"/>
<rect x="440" y="145" width="128" height="272" rx="12" fill="#5a6372"/>
<rect x="452" y="160" width="104" height="190" rx="6" fill="#6a7383"/>
<rect x="470" y="182" width="66" height="17" rx="4" fill="#3c4350"/>
<rect x="490" y="225" width="28" height="28" rx="3" fill="#3eb3d9"/>
<rect x="454" y="364" width="100" height="11" fill="#454c59"/><rect x="454" y="390" width="100" height="11" fill="#454c59"/>
<path d="M152 455 H418 L450 526 H118Z" fill="#a9b0c1"/>
<g stroke="#7d8597" stroke-width="9" stroke-dasharray="22 9"><path d="M160 472 H412"/><path d="M150 490 H422"/><path d="M140 508 H432"/></g>
</g>
<g transform="translate(676.6 702.4) scale(0.09034482758620689 0.1196)">
<rect x="8" y="165" width="274" height="112" rx="12" fill="#95a5cd" stroke="#3a4f8c" stroke-width="8"/>
<g stroke="#40558f" stroke-width="11"><path d="M62 193 H232"/><path d="M62 219 H232"/><path d="M62 246 H232"/></g>
<g transform="translate(10 118)"><rect x="0" y="0" width="270" height="48" fill="#f8e24c" stroke="#3a4f8c" stroke-width="7"/><path d="M36 0 l17 0 l-22 48 l-17 0z" fill="#3a4a82"/><path d="M88 0 l17 0 l-22 48 l-17 0z" fill="#3a4a82"/><path d="M140 0 l17 0 l-22 48 l-17 0z" fill="#3a4a82"/><path d="M192 0 l17 0 l-22 48 l-17 0z" fill="#3a4a82"/><path d="M244 0 l17 0 l-22 48 l-17 0z" fill="#3a4a82"/></g>
<g transform="translate(0 62) rotate(-11.5)"><rect x="0" y="0" width="270" height="48" rx="6" fill="#f8e24c" stroke="#3a4f8c" stroke-width="7"/><path d="M36 0 l17 0 l-22 48 l-17 0z" fill="#3a4a82"/><path d="M88 0 l17 0 l-22 48 l-17 0z" fill="#3a4a82"/><path d="M140 0 l17 0 l-22 48 l-17 0z" fill="#3a4a82"/><path d="M192 0 l17 0 l-22 48 l-17 0z" fill="#3a4a82"/><path d="M244 0 l17 0 l-22 48 l-17 0z" fill="#3a4a82"/></g>
</g>
<g transform="translate(715.4 718.8) scale(0.08835341365461848 0.11004016064257027)" stroke-linecap="round">
<path d="M-98 -112 A142 142 0 0 1 122 -95" fill="none" stroke="#262626" stroke-width="11"/>
<path d="M80 112 C120 112 142 95 142 60 L142 -62 A25 25 0 0 1 192 -62 L192 68" fill="none" stroke="#262626" stroke-width="11"/>
<path d="M-105 122 H170" stroke="#3a3a3a" stroke-width="12"/>
<circle cx="0" cy="0" r="120" fill="#aeebf8" stroke="#202020" stroke-width="11"/>
<g fill="#3eb6da" stroke="#202020" stroke-width="10"><circle cx="0" cy="-72" r="25"/><circle cx="-63" cy="37" r="25"/><circle cx="63" cy="37" r="25"/><circle cx="0" cy="0" r="31" fill="#22a4c6"/></g>
<g fill="none" stroke="#202020" stroke-width="11"><path d="M-45 -50 A25 25 0 1 0 -48 -18"/><path d="M45 -50 A25 25 0 1 1 48 -18"/><path d="M-22 62 A25 25 0 1 0 22 62"/></g>
<path d="M-10 -8 a12 12 0 0 1 18 2" fill="none" stroke="#0b5f78" stroke-width="6"/>
</g>
<g transform="translate(440 800) scale(0.10076)">
<rect x="172" y="155" width="44" height="62" rx="5" fill="#2a5f9e"/><rect x="172" y="155" width="20" height="62" rx="5" fill="#1f4a80"/>
<path d="M110 212 H276 V272 H110Z" fill="#aab5b6"/><rect x="128" y="226" width="130" height="12" fill="#dfe5e6"/>
<path d="M90 290 L188 255 L286 290 L262 350 L230 378 H150 L112 350Z" fill="#e9ecee"/>
<path d="M90 290 L188 268 L286 290 L280 305 L188 282 L96 305Z" fill="#ffffff"/>
<path d="M112 350 L150 378 H230 L262 350 L188 330Z" fill="#cfd4d8"/>
<rect x="170" y="315" width="60" height="62" fill="#2a6fc2"/><rect x="170" y="315" width="28" height="62" fill="#1e3f7a"/>
<path d="M352 152 L276 218 L278 236 L352 212Z" fill="#d8412f"/><path d="M392 152 L474 222 L472 240 L392 212Z" fill="#d8412f"/>
<rect x="300" y="150" width="20" height="30" rx="5" fill="#8e98a8"/><rect x="420" y="150" width="20" height="30" rx="5" fill="#8e98a8"/>
<path d="M350 268 L326 298 V308 L350 302Z M392 268 L416 298 V308 L392 302Z" fill="#d8412f"/>
<path d="M371 68 C388 82 393 105 393 130 V300 C393 312 380 318 371 318 C362 318 349 312 349 300 V130 C349 105 354 82 371 68Z" fill="#d3d8e0"/>
<path d="M371 68 C388 82 393 105 393 130 V300 C393 312 380 318 371 318Z" fill="#bfc5cf"/>
<path d="M360 98 h22 v8 h-22z" fill="#55606e"/>
<path d="M508 210 C508 185 520 176 545 176 H628 C652 176 664 185 664 210 V340 C664 356 654 366 640 366 H532 C518 366 508 356 508 340Z" fill="#1f9be2"/>
<rect x="508" y="300" width="156" height="66" rx="14" fill="#1587cf"/>
<rect x="548" y="168" width="64" height="26" rx="6" fill="#f5c542"/>
<rect x="516" y="212" width="140" height="90" rx="8" fill="#34475a"/><rect x="524" y="220" width="124" height="74" rx="4" fill="#bfe5f5"/>
<rect x="524" y="316" width="32" height="18" rx="4" fill="#f8d048"/><rect x="616" y="316" width="32" height="18" rx="4" fill="#f8d048"/>
<path d="M560 366 L535 405 M612 366 L640 405 M548 390 H626 M575 366 L566 405 M598 366 L608 405" stroke="#7d7d86" stroke-width="8" fill="none"/>
<rect x="262" y="418" width="254" height="16" rx="6" fill="#9aa0a8"/>
<rect x="266" y="375" width="20" height="50" fill="#f08a22"/>
<path d="M418 322 H478 C495 322 503 335 508 352 L512 420 H418Z" fill="#f08a22"/>
<path d="M445 338 H482 C490 338 494 350 497 375 H445Z" fill="#bfe5f5"/>
<path d="M270 360 C275 325 320 305 365 312 C400 318 422 345 422 375 C422 400 395 418 350 415 C300 412 268 392 270 360Z" fill="#f9b92f"/>
<path d="M330 312 C345 345 345 385 325 412 C345 416 360 416 372 414 C390 385 390 345 372 313 C358 310 345 310 330 312Z" fill="#f29a22"/>
<circle cx="308" cy="440" r="23" fill="#5f636b"/><circle cx="308" cy="440" r="10" fill="#b9bec6"/>
<circle cx="465" cy="440" r="23" fill="#5f636b"/><circle cx="465" cy="440" r="10" fill="#b9bec6"/>
</g>
<g transform="translate(555 800) scale(0.10076)">
<path d="M88 448 C100 430 130 425 150 410 C175 385 230 380 260 405 C285 425 320 428 332 448 C330 470 290 468 250 470 C200 476 130 474 100 466 C90 462 86 455 88 448Z" fill="#d4701f"/>
<circle cx="128" cy="392" r="9" fill="#b85a18"/><circle cx="116" cy="410" r="5" fill="#d4701f"/>
<rect x="200" y="325" width="18" height="68" rx="6" fill="#7cc653"/>
<path d="M207 335 C160 330 115 300 100 255 C150 248 200 280 210 330Z" fill="#55b040"/><path d="M100 255 C150 268 190 300 207 335 C160 330 115 300 100 255Z" fill="#7ccf58" opacity="0.6"/>
<path d="M210 335 C212 290 255 250 308 246 C312 295 268 335 210 335Z" fill="#74c44e"/>
<path d="M355 470 C365 400 372 300 398 205 L432 205 C415 300 412 400 432 470Z" fill="#8a5538"/>
<path d="M355 470 C365 400 372 300 398 205 L410 205 C392 300 388 400 392 470Z" fill="#774630"/>
<g stroke="#e2814f" stroke-width="11"><path d="M386 240 H426"/><path d="M374 300 H416"/><path d="M366 360 H414"/><path d="M360 420 H420"/></g>
<path d="M405 190 C390 140 360 100 320 80 C350 78 395 100 410 150Z" fill="#3b8a5c"/>
<path d="M400 185 C370 150 325 140 285 158 C310 180 360 190 400 185Z" fill="#4fc474"/>
<path d="M440 180 C455 140 490 108 528 100 C520 135 485 165 440 180Z" fill="#3b8a5c"/>
<path d="M435 185 C470 170 520 180 556 230 C520 232 470 218 435 185Z" fill="#4fc474"/>
<path d="M415 105 H440 L436 188 H418Z" fill="#1fa3a0"/>
<circle cx="412" cy="205" r="21" fill="#8a6a58"/>
<path d="M480 318 C520 305 600 305 635 320 C655 330 655 370 650 420 H606 L600 395 H560 L556 420 H528 L520 380 C500 370 485 350 480 318Z" fill="#9b7138"/>
<path d="M450 288 C470 295 500 292 520 288 L518 335 C505 350 480 350 465 335 C455 320 450 305 450 288Z" fill="#94692f"/>
<path d="M450 280 l8 14 M520 280 l-8 14" stroke="#c9a66a" stroke-width="7"/>
<rect x="530" y="415" width="26" height="56" fill="#8a6230"/><rect x="610" y="415" width="28" height="56" fill="#8a6230"/>
<path d="M652 350 C668 365 670 385 666 402" stroke="#9b7138" stroke-width="7" fill="none"/>
<circle cx="492" cy="358" r="9" fill="#f4b41e"/>
<rect x="530" y="462" width="26" height="9" fill="#5a3f1e"/><rect x="610" y="462" width="28" height="9" fill="#5a3f1e"/>
</g>
<g transform="translate(665 800) scale(0.10076)">
<rect x="176" y="190" width="9" height="42" fill="#8a8a92"/><rect x="196" y="168" width="9" height="64" fill="#8a8a92"/>
<path d="M318 248 L398 226" stroke="#1c1c1c" stroke-width="11"/><circle cx="400" cy="226" r="9" fill="#a0a0a8"/>
<path d="M140 232 C140 228 144 226 150 226 H312 C318 226 322 230 320 236 L308 296 H152Z" fill="#15705b"/>
<path d="M108 300 C108 296 112 294 118 294 H412 C420 294 424 298 422 304 L415 350 H112Z" fill="#15705b"/>
<g stroke="#0b4a3c" stroke-width="9" stroke-dasharray="14 12"><path d="M150 245 H312"/><path d="M160 265 H310"/><path d="M156 284 H308"/><path d="M118 312 H415"/><path d="M126 332 H412"/></g>
<path d="M112 346 H426 L402 410 C398 416 392 418 386 418 H150 C142 418 138 414 134 408Z" fill="#827c8a"/>
<g fill="#696470"><circle cx="160" cy="382" r="15"/><circle cx="228" cy="382" r="15"/><circle cx="296" cy="382" r="15"/><circle cx="364" cy="382" r="15"/></g>
<rect x="447" y="148" width="10" height="258" fill="#7c7c84"/><rect x="689" y="145" width="10" height="162" fill="#7c7c84"/><rect x="569" y="192" width="9" height="52" fill="#7c7c84"/>
<rect x="408" y="134" width="68" height="16" rx="8" fill="#d9a94f"/><rect x="528" y="182" width="90" height="16" rx="8" fill="#d9a94f"/>
<path d="M425 190 L528 218 L515 262 L415 238Z" fill="#6c82c2"/><path d="M722 190 L618 218 L632 262 L730 238Z" fill="#6c82c2"/>
<circle cx="575" cy="340" r="102" fill="#7589c9"/><path d="M510 420 L500 445 H650 L640 420Z" fill="#7589c9"/>
<circle cx="575" cy="340" r="73" fill="#eef3f8"/><circle cx="598" cy="358" r="16" fill="#ffffff"/>
</g>
</g>
<g id="footer">
<text font-size="12" fill="#173a4f" x="266.10" y="898.90" textLength="478.00" lengthAdjust="spacingAndGlyphs">Sumber: Akaun Negara, Pembentukan Modal Tetap Kasar, Jabatan Perangkaan Malaysia (DOSM)</text>
<path d="M0 992 L0.0 888.4 6.0 888.3 12.0 888.3 18.0 888.2 24.0 888.3 30.0 888.3 36.0 888.5 42.0 888.6 48.0 888.8 54.0 889.1 60.0 889.4 66.0 889.7 72.0 890.1 78.0 890.5 84.0 891.0 90.0 891.5 96.0 891.1 102.0 891.5 108.0 891.9 114.0 892.3 120.0 892.8 126.0 893.3 132.0 893.8 138.0 894.4 144.0 895.1 150.0 895.8 156.0 896.5 162.0 897.3 168.0 898.1 174.0 899.0 180.0 899.9 186.0 900.9 192.0 902.0 198.0 903.1 204.0 904.3 210.0 905.5 216.0 906.8 222.0 908.2 228.0 909.6 234.0 911.1 240.0 912.7 246.0 914.3 252.0 916.0 258.0 917.8 264.0 919.7 270.0 921.7 276.0 923.7 282.0 925.8 288.0 928.0 294.0 930.3 300.0 932.6 306.0 935.1 312.0 937.6 318.0 940.2 324.0 942.9 330.0 945.7 336.0 948.6 342.0 951.6 348.0 954.6 354.0 957.8 360.0 961.1 366.0 964.4 372.0 967.9 378.0 971.4 384.0 975.1 390.0 978.9 396.0 982.7 402.0 986.7 408.0 990.7 414.0 994.9 L414.0 992Z" fill="#961a1e"/>
<path d="M0 992 L0.0 888.4 6.0 888.3 12.0 888.3 18.0 888.2 24.0 888.3 30.0 888.3 36.0 888.5 42.0 888.6 48.0 888.8 54.0 889.1 60.0 889.4 66.0 889.7 72.0 890.1 78.0 890.5 84.0 891.0 90.0 891.5 96.0 891.5 102.0 892.0 108.0 892.6 114.0 893.1 120.0 893.8 126.0 894.4 132.0 895.1 138.0 895.9 144.0 896.7 150.0 897.6 156.0 898.5 162.0 899.4 168.0 900.4 174.0 901.5 180.0 902.6 186.0 903.7 192.0 904.9 198.0 906.2 204.0 907.6 210.0 909.0 216.0 910.4 222.0 912.0 228.0 913.6 234.0 915.2 240.0 916.9 246.0 918.8 252.0 920.6 258.0 922.6 264.0 924.6 270.0 926.7 276.0 928.9 282.0 931.2 288.0 933.5 294.0 936.0 300.0 938.5 306.0 941.1 312.0 943.9 318.0 946.7 324.0 949.6 330.0 952.6 336.0 955.7 342.0 958.9 348.0 962.2 354.0 965.7 360.0 969.2 366.0 972.9 372.0 976.6 378.0 980.5 384.0 984.5 390.0 988.7 396.0 992.9 402.0 997.3 L402.0 992Z" fill="#f6bf2d"/>
<path d="M0 992 L0.0 888.4 6.0 888.3 12.0 888.3 18.0 888.2 24.0 888.3 30.0 888.3 36.0 888.5 42.0 888.6 48.0 888.8 54.0 889.1 60.0 889.4 66.0 889.7 72.0 890.1 78.0 890.5 84.0 891.0 90.0 891.5 96.0 892.0 102.0 892.7 108.0 893.4 114.0 894.1 120.0 894.9 126.0 895.8 132.0 896.7 138.0 897.6 144.0 898.6 150.0 899.6 156.0 900.7 162.0 901.8 168.0 903.0 174.0 904.3 180.0 905.6 186.0 906.9 192.0 908.4 198.0 909.8 204.0 911.4 210.0 912.9 216.0 914.6 222.0 916.3 228.0 918.1 234.0 919.9 240.0 921.9 246.0 923.9 252.0 925.9 258.0 928.1 264.0 930.3 270.0 932.6 276.0 935.0 282.0 937.4 288.0 940.0 294.0 942.6 300.0 945.4 306.0 948.2 312.0 951.1 318.0 954.2 324.0 957.3 330.0 960.6 336.0 963.9 342.0 967.4 348.0 971.0 354.0 974.8 360.0 978.6 366.0 982.6 372.0 986.7 378.0 991.0 384.0 995.4 L384.0 992Z" fill="#2d3a7e"/>
<path d="M0 992 L0.0 888.4 6.0 888.3 12.0 888.3 18.0 888.2 24.0 888.3 30.0 888.3 36.0 888.5 42.0 888.6 48.0 888.8 54.0 889.1 60.0 889.4 66.0 889.7 72.0 890.1 78.0 890.5 84.0 891.0 90.0 891.5 96.0 892.1 102.0 892.7 108.0 893.4 114.0 894.1 120.0 894.9 126.0 895.7 132.0 896.6 138.0 897.5 144.0 898.5 150.0 899.6 156.0 900.7 162.0 901.9 168.0 903.1 174.0 904.4 180.0 905.8 186.0 907.2 192.0 908.8 198.0 910.3 204.0 912.0 210.0 913.8 216.0 915.6 222.0 917.5 228.0 919.5 234.0 921.5 240.0 923.7 246.0 926.0 252.0 928.3 258.0 930.8 264.0 933.3 270.0 936.0 276.0 938.7 282.0 941.6 288.0 944.6 294.0 947.7 300.0 950.9 306.0 954.2 312.0 957.7 318.0 961.3 324.0 965.0 330.0 968.9 336.0 972.9 342.0 977.0 348.0 981.3 354.0 985.8 360.0 990.4 366.0 995.2 L366.0 992Z" fill="#13859b"/>
<rect x="9.80" y="916.60" width="57.80" height="59.20" fill="#ffffff"/>
<path d="M10.10 916.90h13.86v2.07h-13.86zM25.88 916.90h5.97v2.07h-5.97zM33.77 916.90h2.02v2.07h-2.02zM37.71 916.90h2.02v2.07h-2.02zM41.66 916.90h3.99v2.07h-3.99zM53.49 916.90h13.86v2.07h-13.86zM10.10 918.92h2.02v2.07h-2.02zM21.93 918.92h2.02v2.07h-2.02zM33.77 918.92h3.99v2.07h-3.99zM39.69 918.92h2.02v2.07h-2.02zM43.63 918.92h5.97v2.07h-5.97zM53.49 918.92h2.02v2.07h-2.02zM65.33 918.92h2.02v2.07h-2.02zM10.10 920.94h2.02v2.07h-2.02zM14.04 920.94h5.97v2.07h-5.97zM21.93 920.94h2.02v2.07h-2.02zM25.88 920.94h5.97v2.07h-5.97zM35.74 920.94h2.02v2.07h-2.02zM39.69 920.94h2.02v2.07h-2.02zM43.63 920.94h3.99v2.07h-3.99zM49.55 920.94h2.02v2.07h-2.02zM53.49 920.94h2.02v2.07h-2.02zM57.44 920.94h5.97v2.07h-5.97zM65.33 920.94h2.02v2.07h-2.02zM10.10 922.96h2.02v2.07h-2.02zM14.04 922.96h5.97v2.07h-5.97zM21.93 922.96h2.02v2.07h-2.02zM25.88 922.96h3.99v2.07h-3.99zM31.80 922.96h2.02v2.07h-2.02zM35.74 922.96h5.97v2.07h-5.97zM45.60 922.96h3.99v2.07h-3.99zM53.49 922.96h2.02v2.07h-2.02zM57.44 922.96h5.97v2.07h-5.97zM65.33 922.96h2.02v2.07h-2.02zM10.10 924.98h2.02v2.07h-2.02zM14.04 924.98h5.97v2.07h-5.97zM21.93 924.98h2.02v2.07h-2.02zM29.82 924.98h5.97v2.07h-5.97zM43.63 924.98h5.97v2.07h-5.97zM53.49 924.98h2.02v2.07h-2.02zM57.44 924.98h5.97v2.07h-5.97zM65.33 924.98h2.02v2.07h-2.02zM10.10 927.00h2.02v2.07h-2.02zM21.93 927.00h2.02v2.07h-2.02zM27.85 927.00h3.99v2.07h-3.99zM33.77 927.00h5.97v2.07h-5.97zM41.66 927.00h9.91v2.07h-9.91zM53.49 927.00h2.02v2.07h-2.02zM65.33 927.00h2.02v2.07h-2.02zM10.10 929.02h13.86v2.07h-13.86zM31.80 929.02h3.99v2.07h-3.99zM53.49 929.02h13.86v2.07h-13.86zM29.82 931.04h7.94v2.07h-7.94zM39.69 931.04h3.99v2.07h-3.99zM12.07 933.07h2.02v2.07h-2.02zM17.99 933.07h2.02v2.07h-2.02zM21.93 933.07h2.02v2.07h-2.02zM25.88 933.07h5.97v2.07h-5.97zM33.77 933.07h17.80v2.07h-17.80zM55.47 933.07h2.02v2.07h-2.02zM10.10 935.09h2.02v2.07h-2.02zM14.04 935.09h2.02v2.07h-2.02zM17.99 935.09h2.02v2.07h-2.02zM21.93 935.09h2.02v2.07h-2.02zM29.82 935.09h2.02v2.07h-2.02zM35.74 935.09h2.02v2.07h-2.02zM39.69 935.09h3.99v2.07h-3.99zM47.58 935.09h3.99v2.07h-3.99zM53.49 935.09h5.97v2.07h-5.97zM61.38 935.09h2.02v2.07h-2.02zM65.33 935.09h2.02v2.07h-2.02zM12.07 937.11h2.02v2.07h-2.02zM16.02 937.11h2.02v2.07h-2.02zM19.96 937.11h3.99v2.07h-3.99zM65.33 937.11h2.02v2.07h-2.02zM12.07 939.13h11.88v2.07h-11.88zM25.88 939.13h2.02v2.07h-2.02zM51.52 939.13h2.02v2.07h-2.02zM55.47 939.13h11.88v2.07h-11.88zM14.04 941.15h3.99v2.07h-3.99zM21.93 941.15h3.99v2.07h-3.99zM49.55 941.15h2.02v2.07h-2.02zM53.49 941.15h2.02v2.07h-2.02zM57.44 941.15h3.99v2.07h-3.99zM63.36 941.15h2.02v2.07h-2.02zM10.10 943.17h11.88v2.07h-11.88zM23.91 943.17h3.99v2.07h-3.99zM49.55 943.17h2.02v2.07h-2.02zM53.49 943.17h7.94v2.07h-7.94zM10.10 945.19h2.02v2.07h-2.02zM17.99 945.19h7.94v2.07h-7.94zM59.41 945.19h2.02v2.07h-2.02zM63.36 945.19h2.02v2.07h-2.02zM12.07 947.21h3.99v2.07h-3.99zM17.99 947.21h2.02v2.07h-2.02zM21.93 947.21h2.02v2.07h-2.02zM25.88 947.21h2.02v2.07h-2.02zM49.55 947.21h5.97v2.07h-5.97zM59.41 947.21h2.02v2.07h-2.02zM65.33 947.21h2.02v2.07h-2.02zM21.93 949.23h2.02v2.07h-2.02zM25.88 949.23h2.02v2.07h-2.02zM55.47 949.23h5.97v2.07h-5.97zM63.36 949.23h3.99v2.07h-3.99zM12.07 951.25h5.97v2.07h-5.97zM25.88 951.25h2.02v2.07h-2.02zM49.55 951.25h5.97v2.07h-5.97zM59.41 951.25h3.99v2.07h-3.99zM65.33 951.25h2.02v2.07h-2.02zM10.10 953.27h2.02v2.07h-2.02zM16.02 953.27h2.02v2.07h-2.02zM21.93 953.27h5.97v2.07h-5.97zM53.49 953.27h3.99v2.07h-3.99zM63.36 953.27h2.02v2.07h-2.02zM17.99 955.29h5.97v2.07h-5.97zM25.88 955.29h9.91v2.07h-9.91zM37.71 955.29h2.02v2.07h-2.02zM43.63 955.29h3.99v2.07h-3.99zM57.44 955.29h3.99v2.07h-3.99zM65.33 955.29h2.02v2.07h-2.02zM10.10 957.31h3.99v2.07h-3.99zM16.02 957.31h3.99v2.07h-3.99zM33.77 957.31h3.99v2.07h-3.99zM39.69 957.31h2.02v2.07h-2.02zM47.58 957.31h13.86v2.07h-13.86zM63.36 957.31h3.99v2.07h-3.99zM27.85 959.33h2.02v2.07h-2.02zM31.80 959.33h3.99v2.07h-3.99zM37.71 959.33h3.99v2.07h-3.99zM45.60 959.33h2.02v2.07h-2.02zM49.55 959.33h2.02v2.07h-2.02zM57.44 959.33h5.97v2.07h-5.97zM65.33 959.33h2.02v2.07h-2.02zM10.10 961.36h13.86v2.07h-13.86zM25.88 961.36h3.99v2.07h-3.99zM31.80 961.36h7.94v2.07h-7.94zM41.66 961.36h2.02v2.07h-2.02zM49.55 961.36h2.02v2.07h-2.02zM53.49 961.36h2.02v2.07h-2.02zM57.44 961.36h2.02v2.07h-2.02zM63.36 961.36h3.99v2.07h-3.99zM10.10 963.38h2.02v2.07h-2.02zM21.93 963.38h2.02v2.07h-2.02zM25.88 963.38h5.97v2.07h-5.97zM41.66 963.38h9.91v2.07h-9.91zM57.44 963.38h2.02v2.07h-2.02zM63.36 963.38h3.99v2.07h-3.99zM10.10 965.40h2.02v2.07h-2.02zM14.04 965.40h5.97v2.07h-5.97zM21.93 965.40h2.02v2.07h-2.02zM25.88 965.40h2.02v2.07h-2.02zM39.69 965.40h3.99v2.07h-3.99zM49.55 965.40h13.86v2.07h-13.86zM65.33 965.40h2.02v2.07h-2.02zM10.10 967.42h2.02v2.07h-2.02zM14.04 967.42h5.97v2.07h-5.97zM21.93 967.42h2.02v2.07h-2.02zM25.88 967.42h2.02v2.07h-2.02zM29.82 967.42h2.02v2.07h-2.02zM33.77 967.42h2.02v2.07h-2.02zM45.60 967.42h2.02v2.07h-2.02zM49.55 967.42h2.02v2.07h-2.02zM53.49 967.42h5.97v2.07h-5.97zM61.38 967.42h2.02v2.07h-2.02zM10.10 969.44h2.02v2.07h-2.02zM14.04 969.44h5.97v2.07h-5.97zM21.93 969.44h2.02v2.07h-2.02zM27.85 969.44h3.99v2.07h-3.99zM41.66 969.44h3.99v2.07h-3.99zM49.55 969.44h7.94v2.07h-7.94zM10.10 971.46h2.02v2.07h-2.02zM21.93 971.46h2.02v2.07h-2.02zM27.85 971.46h5.97v2.07h-5.97zM35.74 971.46h2.02v2.07h-2.02zM45.60 971.46h2.02v2.07h-2.02zM51.52 971.46h2.02v2.07h-2.02zM57.44 971.46h2.02v2.07h-2.02zM63.36 971.46h3.99v2.07h-3.99zM10.10 973.48h13.86v2.07h-13.86zM25.88 973.48h9.91v2.07h-9.91zM39.69 973.48h2.02v2.07h-2.02zM43.63 973.48h2.02v2.07h-2.02zM47.58 973.48h2.02v2.07h-2.02zM51.52 973.48h3.99v2.07h-3.99zM57.44 973.48h3.99v2.07h-3.99zM65.33 973.48h2.02v2.07h-2.02z" fill="#000"/>
<g transform="translate(28.6 936.6) scale(0.0262)">
<path d="M328.5 103.9 A78 78 0 1 0 471.5 103.9 A72 72 0 1 1 328.5 103.9Z" fill="#f3c71d"/><circle cx="400" cy="108" r="34" fill="#f7b918"/>
<path d="M232 150 C190 210 150 300 128 400" stroke="#c9581f" stroke-width="70" fill="none" stroke-linecap="round"/><path d="M568 150 C610 210 650 300 672 400" stroke="#c9581f" stroke-width="70" fill="none" stroke-linecap="round"/>
<path d="M232 150 C190 210 150 300 128 400 M568 150 C610 210 650 300 672 400" stroke="#3a1a10" stroke-width="70" fill="none" stroke-dasharray="8 22"/>
<path d="M265 226 H530 V400 C530 450 470 480 400 497 C330 480 265 450 265 400Z" fill="#fff"/>
<rect x="265" y="226" width="265" height="80" fill="#ee2a2c"/><rect x="312" y="306" width="50" height="90" fill="#ee2a2c"/><rect x="440" y="306" width="50" height="90" fill="#f8e11c"/><rect x="490" y="306" width="40" height="100" fill="#2aa04a"/><rect x="362" y="306" width="38" height="90" fill="#222"/>
<path d="M70 450 C150 500 240 470 262 520 C320 545 480 545 538 520 C560 470 650 500 732 450 C722 500 650 520 560 500 C560 540 540 575 400 578 C260 575 240 540 240 500 C150 520 80 500 70 450Z" fill="#e9bb1c"/>
</g>
<rect x="80.8" y="929" width="22.3" height="22.7" rx="2.2" fill="none" stroke="#cdeaf0" stroke-width="0.9"/>
<rect x="107.9" y="929" width="22.4" height="22.7" rx="2.2" fill="none" stroke="#cdeaf0" stroke-width="0.9"/>
<rect x="135.4" y="929" width="22.3" height="22.7" rx="2.2" fill="none" stroke="#cdeaf0" stroke-width="0.9"/>
<rect x="161.5" y="929" width="21.9" height="22.7" rx="2.2" fill="none" stroke="#cdeaf0" stroke-width="0.9"/>
<rect x="187.8" y="929" width="22.1" height="22.7" rx="2.2" fill="none" stroke="#cdeaf0" stroke-width="0.9"/>
<rect x="214.6" y="929" width="22.7" height="22.7" rx="2.2" fill="none" stroke="#cdeaf0" stroke-width="0.9"/>
<g transform="translate(75 920) scale(0.21411)" fill="#fff">
<rect x="50" y="64" width="60" height="64" rx="17" fill="none" stroke="#fff" stroke-width="8.5"/><circle cx="80" cy="97" r="16" fill="none" stroke="#fff" stroke-width="8"/><circle cx="99" cy="78" r="5"/>
<path d="M300 62 H318 L342 94 L368 62 H376 L346 99 L377 136 H359 L334 104 L308 136 H300 L330 99Z M310 67 L362 131 H367 L315 67Z" fill="#fff" fill-rule="evenodd"/>
<path d="M436 74 L481 97 L436 120Z"/>
<path d="M574 60 H589 C590 73 598 82 612 84 V98 C602 98 595 95 589 91 V114 A22 22 0 1 1 567 92 L570 92 V107 A8 8 0 1 0 574 114Z"/>
</g>
<text font-size="23" fill="#fff" font-weight="700" x="116.60" y="948.80" textLength="9.57" lengthAdjust="spacingAndGlyphs">f</text>
<text font-size="23" fill="#fff" font-weight="700" x="216.46" y="948.90" textLength="19.12" lengthAdjust="spacingAndGlyphs">in</text>
<text font-size="14.6" fill="#fff" font-weight="700" stroke="#fff" stroke-width="0.5" x="82.15" y="969.70" textLength="14.23" lengthAdjust="spacingAndGlyphs">@</text>
<text x="100.6" y="969.7" font-size="15.4" fill="#fff" letter-spacing="2.85" font-weight="700" stroke="#fff" stroke-width="0.3">Stats</text>
<text x="153.3" y="969.7" font-size="15.4" fill="#fff" letter-spacing="3.05" stroke="#fff" stroke-width="0.45">Malaysia</text>
<g transform="translate(360 920) scale(0.06927)"><path d="M281 444 L255 433 L233 415 L216 391 L205 363 L201 332 L205 300 L216 269 L235 239 L259 214 L289 192 L323 177 L360 168 L399 166 L438 171 L476 182 L511 200 L543 224 L571 253 L571 253 L532 237 L494 226 L457 221 L422 222 L390 229 L360 240 L334 255 L313 272 L296 292 L283 313 L274 333 L269 353 L267 372 L267 390 L270 406 L275 420 L280 432 L281 444Z" fill="#e1202e" stroke="#fff" stroke-width="7" stroke-linejoin="round"/><path d="M266 417 L259 403 L251 387 L246 369 L245 350 L247 330 L252 311 L262 291 L274 273 L290 257 L309 243 L330 231 L353 222 L377 216 L403 213 L430 214 L457 218 L485 225 L514 233 L514 233 L484 227 L456 221 L429 219 L402 219 L377 223 L353 230 L331 240 L311 252 L294 266 L279 282 L267 299 L259 318 L253 336 L251 355 L252 372 L255 389 L261 404 L266 417Z" fill="#ffffff" opacity="0.85"/><path d="M294 384 L284 358 L280 329 L285 301 L298 273 L317 249 L342 229 L373 214 L406 207 L442 206 L478 212 L513 225 L545 245 L574 271 L598 302 L617 337 L629 374 L635 414 L635 454 L635 454 L618 415 L599 381 L577 351 L551 327 L523 308 L495 295 L466 288 L438 285 L412 287 L388 292 L368 301 L350 311 L335 323 L323 336 L314 350 L307 363 L302 375 L294 384Z" fill="#1f3a8a" stroke="#fff" stroke-width="7" stroke-linejoin="round"/><path d="M298 358 L298 339 L303 318 L312 298 L325 280 L342 264 L362 251 L385 242 L410 237 L436 236 L463 240 L490 248 L515 260 L539 276 L561 296 L580 319 L596 345 L609 373 L621 403 L621 403 L604 374 L588 348 L569 324 L548 304 L525 288 L501 275 L477 266 L452 261 L427 259 L404 261 L382 266 L362 275 L344 285 L329 299 L317 313 L308 329 L302 345 L298 358Z" fill="#f6b720"/><path d="M346 351 L357 325 L375 303 L399 286 L427 275 L458 271 L490 275 L521 286 L551 305 L576 329 L598 359 L613 393 L622 430 L624 469 L619 508 L608 546 L590 581 L566 613 L537 641 L537 641 L553 602 L564 564 L569 527 L568 492 L561 460 L550 430 L535 404 L518 383 L498 366 L477 353 L457 344 L437 339 L418 337 L400 337 L384 340 L370 345 L358 350 L346 351Z" fill="#1f3a8a" stroke="#fff" stroke-width="7" stroke-linejoin="round"/><path d="M367 335 L381 322 L399 310 L419 302 L441 299 L465 299 L488 305 L511 315 L532 329 L551 347 L567 368 L580 393 L590 419 L595 448 L597 477 L594 507 L587 536 L576 566 L564 595 L564 595 L572 563 L579 533 L582 503 L582 474 L577 446 L569 420 L558 396 L545 375 L528 357 L510 342 L491 330 L471 321 L451 317 L431 315 L412 317 L395 322 L379 329 L367 335Z" fill="#f6b720"/><path d="M406 364 L432 354 L461 350 L489 355 L517 368 L541 387 L561 412 L576 443 L583 476 L584 512 L578 548 L565 583 L545 615 L519 644 L488 668 L453 687 L416 699 L376 705 L336 705 L336 705 L375 688 L409 669 L439 647 L463 621 L482 593 L495 565 L502 536 L505 508 L503 482 L498 458 L489 438 L479 420 L467 405 L454 393 L440 384 L427 377 L415 372 L406 364Z" fill="#1f3a8a" stroke="#fff" stroke-width="7" stroke-linejoin="round"/><path d="M432 368 L451 368 L472 373 L492 382 L510 395 L526 412 L539 432 L548 455 L553 480 L554 506 L550 533 L542 560 L530 585 L514 609 L494 631 L471 650 L445 666 L417 679 L387 691 L387 691 L416 674 L442 658 L466 639 L486 618 L502 595 L515 571 L524 547 L529 522 L531 497 L529 474 L524 452 L515 432 L505 414 L491 399 L477 387 L461 378 L445 372 L432 368Z" fill="#f6b720"/><path d="M439 416 L465 427 L487 445 L504 469 L515 497 L519 528 L515 560 L504 591 L485 621 L461 646 L431 668 L397 683 L360 692 L321 694 L282 689 L244 678 L209 660 L177 636 L149 607 L149 607 L188 623 L226 634 L263 639 L298 638 L330 631 L360 620 L386 605 L407 588 L424 568 L437 547 L446 527 L451 507 L453 488 L453 470 L450 454 L445 440 L440 428 L439 416Z" fill="#1f3a8a" stroke="#fff" stroke-width="7" stroke-linejoin="round"/><path d="M455 437 L468 451 L480 469 L488 489 L491 511 L491 535 L485 558 L475 581 L461 602 L443 621 L422 637 L397 650 L371 660 L342 665 L313 667 L283 664 L254 657 L224 646 L195 634 L195 634 L227 642 L257 649 L287 652 L316 652 L344 647 L370 639 L394 628 L415 615 L433 598 L448 580 L460 561 L469 541 L473 521 L475 501 L473 482 L468 465 L461 449 L455 437Z" fill="#f6b720"/><path d="M426 476 L436 502 L440 531 L435 559 L422 587 L403 611 L378 631 L347 646 L314 653 L278 654 L242 648 L207 635 L175 615 L146 589 L122 558 L103 523 L91 486 L85 446 L85 406 L85 406 L102 445 L121 479 L143 509 L169 533 L197 552 L225 565 L254 572 L282 575 L308 573 L332 568 L352 559 L370 549 L385 537 L397 524 L406 510 L413 497 L418 485 L426 476Z" fill="#e1202e" stroke="#fff" stroke-width="7" stroke-linejoin="round"/><path d="M417 506 L413 521 L407 537 L398 553 L385 568 L370 580 L352 590 L331 598 L310 601 L287 602 L264 599 L241 592 L218 582 L196 569 L176 552 L158 533 L141 511 L127 487 L112 460 L112 460 L129 486 L145 510 L162 531 L181 549 L202 564 L224 576 L246 585 L269 590 L291 593 L313 592 L333 588 L352 581 L369 572 L384 560 L396 547 L405 533 L412 518 L417 506Z" fill="#ffffff" opacity="0.85"/><path d="M374 509 L363 535 L345 557 L321 574 L293 585 L262 589 L230 585 L199 574 L169 555 L144 531 L122 501 L107 467 L98 430 L96 391 L101 352 L112 314 L130 279 L154 247 L183 219 L183 219 L167 258 L156 296 L151 333 L152 368 L159 400 L170 430 L185 456 L202 477 L222 494 L243 507 L263 516 L283 521 L302 523 L320 523 L336 520 L350 515 L362 510 L374 509Z" fill="#e1202e" stroke="#fff" stroke-width="7" stroke-linejoin="round"/><path d="M347 524 L333 531 L317 539 L299 544 L280 545 L260 543 L241 538 L221 528 L203 516 L187 500 L173 481 L161 460 L152 437 L146 413 L143 387 L144 360 L148 333 L155 305 L163 276 L163 276 L157 306 L151 334 L149 361 L149 388 L153 413 L160 437 L170 459 L182 479 L196 496 L212 511 L229 523 L248 531 L266 537 L285 539 L302 538 L319 535 L334 529 L347 524Z" fill="#ffffff" opacity="0.85"/><path d="M314 496 L288 506 L259 510 L231 505 L203 492 L179 473 L159 448 L144 417 L137 384 L136 348 L142 312 L155 277 L175 245 L201 216 L232 192 L267 173 L304 161 L344 155 L384 155 L384 155 L345 172 L311 191 L281 213 L257 239 L238 267 L225 295 L218 324 L215 352 L217 378 L222 402 L231 422 L241 440 L253 455 L266 467 L280 476 L293 483 L305 488 L314 496Z" fill="#e1202e" stroke="#fff" stroke-width="7" stroke-linejoin="round"/><path d="M284 487 L269 483 L253 477 L237 468 L222 455 L210 440 L200 422 L192 401 L189 380 L188 357 L191 334 L198 311 L208 288 L221 266 L238 246 L257 228 L279 211 L303 197 L330 182 L330 182 L304 199 L280 215 L259 232 L241 251 L226 272 L214 294 L205 316 L200 339 L197 361 L198 383 L202 403 L209 422 L218 439 L230 454 L243 466 L257 475 L272 482 L284 487Z" fill="#ffffff" opacity="0.85"/>
<path d="M250 250 C300 170 400 125 640 112 C480 140 400 170 330 240Z" fill="#e1202e"/>
<g fill="#e1202e"><circle cx="508" cy="92" r="11"/><circle cx="575" cy="95" r="11"/><circle cx="642" cy="100" r="10"/><circle cx="515" cy="165" r="11"/><circle cx="578" cy="150" r="11"/><circle cx="638" cy="140" r="10"/></g>
<circle cx="360" cy="432" r="88" fill="#ffffff"/><circle cx="360" cy="432" r="76" fill="#e6232e"/>
<path d="M322 385 H398 L380 432 L398 468 H322 L340 432Z" fill="#f8d128"/><rect x="322" y="474" width="76" height="10" fill="#f8d128"/>
</g>
<text font-size="26.76" fill="#2a2f8f" font-weight="700" stroke="#2a2f8f" stroke-width="2.0" x="410.30" y="952.63" textLength="75.67" lengthAdjust="spacingAndGlyphs" stroke-linejoin="round">ASEAN</text>
<text font-size="10.28" fill="#2a2f8f" font-weight="700" stroke="#2a2f8f" stroke-width="0.7" x="409.85" y="963.35" textLength="75.22" lengthAdjust="spacingAndGlyphs" stroke-linejoin="round">MALAYSIA 2025</text>
<text font-size="3.9" fill="#2a2f8f" font-weight="700" x="409.50" y="969.40" textLength="76.01" lengthAdjust="spacingAndGlyphs">KETERANGKUMAN DAN KEMAMPANAN</text>
<g transform="translate(490 915) scale(0.16373)">
<path d="M52 150 L82 132 V100 L112 82 V70 L140 64 V92 L166 98 V140 L195 148 V250 C195 290 165 312 122 312 C80 312 52 290 52 250Z" fill="#1f2b70"/>
<g fill="#e0232e"><path d="M60 152 L78 142 V200 H60Z"/><path d="M88 106 L108 94 V190 H88Z"/><path d="M118 76 L135 72 V185 H118Z"/><path d="M146 104 L160 107 V190 H146Z"/><path d="M172 150 L188 154 V200 H172Z"/></g>
<g fill="#ffffff"><path d="M69 150 L74 147 V195 H69Z"/><path d="M97 104 L102 101 V186 H97Z"/><path d="M125 78 L130 77 V182 H125Z"/><path d="M151 108 L156 109 V186 H151Z"/><path d="M178 154 L183 155 V196 H178Z"/></g>
<path d="M52 200 C90 170 160 170 195 200 V250 C195 290 165 312 122 312 C80 312 52 290 52 250Z" fill="#1f2b70"/>
<path d="M118 196 A46 46 0 1 0 132 284 A40 40 0 1 1 118 196Z" fill="#f7c81e"/>
<polygon points="146.0,210.0 150.1,224.5 161.0,214.0 157.3,228.7 172.0,225.0 161.5,235.9 176.0,240.0 161.5,244.1 172.0,255.0 157.3,251.3 161.0,266.0 150.1,255.5 146.0,270.0 141.9,255.5 131.0,266.0 134.7,251.3 120.0,255.0 130.5,244.1 116.0,240.0 130.5,235.9 120.0,225.0 134.7,228.7 131.0,214.0 141.9,224.5" fill="#f7c81e"/>
</g>
<text font-size="13.8" fill="#1f2b70" font-weight="700" stroke="#1f2b70" stroke-width="0.5" x="528.25" y="942.90" textLength="76.06" lengthAdjust="spacingAndGlyphs">MALAYSIA</text>
<text font-size="19" fill="#1f2b70" font-weight="700" stroke="#1f2b70" stroke-width="0.8" x="527.39" y="958.40" textLength="77.10" lengthAdjust="spacingAndGlyphs">MADANI</text>
<text x="531" y="969.4" font-size="12.5" font-style="italic" font-weight="400" font-family="'Liberation Serif', serif" fill="#1f2b70" stroke="#1f2b70" stroke-width="0.25" textLength="71" lengthAdjust="spacingAndGlyphs">ke<tspan fill="#e0232e" stroke="#e0232e">m</tspan>ampanan</text>
<circle cx="624.8" cy="934.8" r="8.7" fill="#fff" stroke="#1fb0f0" stroke-width="1.4"/>
<circle cx="625" cy="935" r="5.1" fill="#2a4f94"/><path d="M622.2 933.4 c1 -1.6 3.2 -1.8 4.4 -0.6 c0.2 1.4 -1 2 -0.6 3.6 c-1.2 1 -3.6 -0.6 -3.8 -3z" fill="#5f9a5a"/><path d="M626.8 936.2 c0.8 -0.4 1.6 0 1.8 0.8 c-0.4 1 -1.2 1.4 -1.8 1z" fill="#7fae6e"/>
<text font-size="22.32" fill="#ffffff" font-weight="700" x="635.16" y="942.70" textLength="13.54" lengthAdjust="spacingAndGlyphs" stroke="#1fb0f0" stroke-width="2.6" paint-order="stroke" stroke-linejoin="round">D</text>
<text font-size="24.14" fill="#12a5ec" font-weight="700" stroke="#12a5ec" stroke-width="0.6" x="651.26" y="943.50" textLength="25.12" lengthAdjust="spacingAndGlyphs">IN</text>
<text font-size="4.4" fill="#1a7fc0" font-weight="700" stroke="#1a7fc0" stroke-width="0.2" x="616.60" y="947.80" textLength="58.72" lengthAdjust="spacingAndGlyphs">OPEN DATA INVENTORY</text>
<text font-size="10.56" fill="#115f9e" font-weight="700" stroke="#115f9e" stroke-width="0.5" x="616.75" y="957.24" textLength="58.09" lengthAdjust="spacingAndGlyphs">MALAYSIA</text>
<text font-size="5.77" fill="#c9a045" font-weight="700" stroke="#c9a045" stroke-width="0.3" x="616.65" y="963.39" textLength="57.78" lengthAdjust="spacingAndGlyphs">TEMPAT PERTAMA</text>
<text font-size="5.63" fill="#1a7fc0" font-weight="700" stroke="#1a7fc0" stroke-width="0.3" x="631.85" y="969.79" textLength="28.47" lengthAdjust="spacingAndGlyphs">DI DUNIA</text>
<g transform="translate(685 912) scale(0.06927)">
<path d="M469 189 A268 268 0 1 1 133 471" fill="none" stroke="#3558b8" stroke-width="26" stroke-dasharray="9 8" opacity="0.55"/>
<path d="M442 252 A200 200 0 0 1 600 455" fill="none" stroke="#ec1c24" stroke-width="52"/>
<path d="M600 455 A200 200 0 0 1 397 648" fill="none" stroke="#f4ee1c" stroke-width="52"/>
<path d="M397 648 A200 200 0 0 1 202 476" fill="none" stroke="#1f4fb8" stroke-width="52"/>
<path d="M100 258 L232 358 L212 468 L88 342Z" fill="#1f9a9c"/>
<path d="M278 76 L350 84 L282 470 L212 468Z" fill="#1fa0a2"/><path d="M278 76 L350 84 L316 280 L244 290Z" fill="#7ccbc9"/>
<path d="M322 258 L392 270 L340 492 L268 480Z" fill="#1fa0a2"/><path d="M322 258 L392 270 L374 350 L302 340Z" fill="#7ccbc9"/>
<path d="M402 348 L458 362 L420 516 L362 500Z" fill="#1fa0a2"/><path d="M402 348 L458 362 L442 428 L384 416Z" fill="#7ccbc9"/>
</g>
<text font-size="6.5" fill="#111" font-weight="700" x="696.80" y="971.60" textLength="33.14" lengthAdjust="spacingAndGlyphs">20 Oktober</text>
<text font-size="6.5" fill="#111" font-weight="700" x="745.00" y="971.60" textLength="38.08" lengthAdjust="spacingAndGlyphs">2016 - 2030</text>
<path d="M765.52 915.71 A23.3 23.3 0 0 1 772.93 917.09 L769.49 926.59 A13.2 13.2 0 0 0 765.29 925.80Z" fill="#e5243b"/>
<path d="M773.90 917.47 A23.3 23.3 0 0 1 780.31 921.44 L773.67 929.05 A13.2 13.2 0 0 0 770.04 926.80Z" fill="#dda63a"/>
<path d="M781.08 922.13 A23.3 23.3 0 0 1 785.62 928.15 L776.68 932.86 A13.2 13.2 0 0 0 774.11 929.44Z" fill="#4c9f38"/>
<path d="M786.08 929.08 A23.3 23.3 0 0 1 788.15 936.34 L778.11 937.49 A13.2 13.2 0 0 0 776.94 933.38Z" fill="#c5192d"/>
<path d="M788.24 937.37 A23.3 23.3 0 0 1 787.55 944.88 L777.77 942.33 A13.2 13.2 0 0 0 778.17 938.07Z" fill="#ff3a21"/>
<path d="M787.26 945.87 A23.3 23.3 0 0 1 783.90 952.63 L775.71 946.72 A13.2 13.2 0 0 0 777.61 942.89Z" fill="#26bde2"/>
<path d="M783.28 953.45 A23.3 23.3 0 0 1 777.70 958.53 L772.20 950.07 A13.2 13.2 0 0 0 775.35 947.19Z" fill="#fcc30b"/>
<path d="M776.82 959.08 A23.3 23.3 0 0 1 769.79 961.80 L767.71 951.92 A13.2 13.2 0 0 0 771.70 950.37Z" fill="#a21942"/>
<path d="M768.77 961.99 A23.3 23.3 0 0 1 761.23 961.99 L762.86 952.03 A13.2 13.2 0 0 0 767.14 952.03Z" fill="#fd6925"/>
<path d="M760.21 961.80 A23.3 23.3 0 0 1 753.18 959.08 L758.30 950.37 A13.2 13.2 0 0 0 762.29 951.92Z" fill="#dd1367"/>
<path d="M752.30 958.53 A23.3 23.3 0 0 1 746.72 953.45 L754.65 947.19 A13.2 13.2 0 0 0 757.80 950.07Z" fill="#fd9d24"/>
<path d="M746.10 952.63 A23.3 23.3 0 0 1 742.74 945.87 L752.39 942.89 A13.2 13.2 0 0 0 754.29 946.72Z" fill="#bf8b2e"/>
<path d="M742.45 944.88 A23.3 23.3 0 0 1 741.76 937.37 L751.83 938.07 A13.2 13.2 0 0 0 752.23 942.33Z" fill="#3f7e44"/>
<path d="M741.85 936.34 A23.3 23.3 0 0 1 743.92 929.08 L753.06 933.38 A13.2 13.2 0 0 0 751.89 937.49Z" fill="#0a97d9"/>
<path d="M744.38 928.15 A23.3 23.3 0 0 1 748.92 922.13 L755.89 929.44 A13.2 13.2 0 0 0 753.32 932.86Z" fill="#56c02b"/>
<path d="M749.69 921.44 A23.3 23.3 0 0 1 756.10 917.47 L759.96 926.80 A13.2 13.2 0 0 0 756.33 929.05Z" fill="#00689d"/>
<path d="M757.07 917.09 A23.3 23.3 0 0 1 764.48 915.71 L764.71 925.80 A13.2 13.2 0 0 0 760.51 926.59Z" fill="#19486a"/>
<text font-size="2.4" fill="#2a9fd8" font-weight="700" x="755.50" y="933.60" textLength="18.55" lengthAdjust="spacingAndGlyphs">SUSTAINABLE</text>
<text font-size="2.4" fill="#2a9fd8" font-weight="700" x="755.50" y="936.40" textLength="18.45" lengthAdjust="spacingAndGlyphs">DEVELOPMENT</text>
<text font-size="5.6" fill="#2a9fd8" font-weight="700" x="755.50" y="941.40" textLength="18.75" lengthAdjust="spacingAndGlyphs">GOALS</text>
<text font-size="4.2" fill="#c5192d" font-weight="700" x="755.50" y="945.60" textLength="19.02" lengthAdjust="spacingAndGlyphs">MALAYSIA</text>
</g>
</svg>
</body>
</html>
